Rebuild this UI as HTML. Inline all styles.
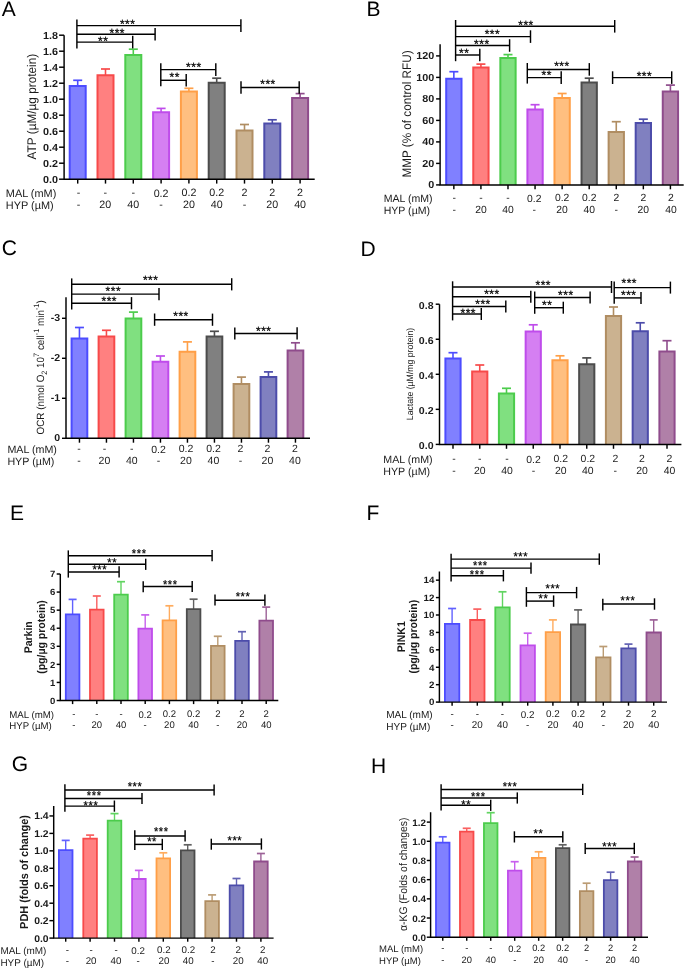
<!DOCTYPE html>
<html><head><meta charset="utf-8"><title>Figure</title>
<style>
html,body{margin:0;padding:0;background:#fff;width:685px;height:969px;overflow:hidden}
svg{display:block;font-family:"Liberation Sans",sans-serif;-webkit-font-smoothing:antialiased;will-change:transform;text-rendering:geometricPrecision}
</style></head><body>
<svg width="685" height="969" viewBox="0 0 685 969">
<g fill="#000">
<text x="1.8" y="15.9" font-size="21" fill="#000">A</text>
<line x1="77.7" y1="86" x2="77.7" y2="80.3" stroke="#4c4cff" stroke-width="1.6"/>
<line x1="73.2" y1="80.3" x2="82.2" y2="80.3" stroke="#4c4cff" stroke-width="1.7"/>
<rect x="69.7" y="86" width="16" height="93.2" fill="#8080ff"/>
<path d="M69.7 179.2V86H85.7V179.2" fill="none" stroke="#4c4cff" stroke-width="2"/>
<line x1="105.5" y1="75.3" x2="105.5" y2="69" stroke="#f74a4a" stroke-width="1.6"/>
<line x1="101" y1="69" x2="110" y2="69" stroke="#f74a4a" stroke-width="1.7"/>
<rect x="97.5" y="75.3" width="16" height="103.9" fill="#ff8080"/>
<path d="M97.5 179.2V75.3H113.5V179.2" fill="none" stroke="#f74a4a" stroke-width="2"/>
<line x1="133.3" y1="54.9" x2="133.3" y2="49.2" stroke="#4ccc4c" stroke-width="1.6"/>
<line x1="128.8" y1="49.2" x2="137.8" y2="49.2" stroke="#4ccc4c" stroke-width="1.7"/>
<rect x="125.3" y="54.9" width="16" height="124.3" fill="#80e080"/>
<path d="M125.3 179.2V54.9H141.3V179.2" fill="none" stroke="#4ccc4c" stroke-width="2"/>
<line x1="161.1" y1="112.3" x2="161.1" y2="108.4" stroke="#bf4ceb" stroke-width="1.6"/>
<line x1="156.6" y1="108.4" x2="165.6" y2="108.4" stroke="#bf4ceb" stroke-width="1.7"/>
<rect x="153.1" y="112.3" width="16" height="66.9" fill="#d57ff2"/>
<path d="M153.1 179.2V112.3H169.1V179.2" fill="none" stroke="#bf4ceb" stroke-width="2"/>
<line x1="188.9" y1="91.5" x2="188.9" y2="88.3" stroke="#ff9f47" stroke-width="1.6"/>
<line x1="184.4" y1="88.3" x2="193.4" y2="88.3" stroke="#ff9f47" stroke-width="1.7"/>
<rect x="180.9" y="91.5" width="16" height="87.7" fill="#ffbf80"/>
<path d="M180.9 179.2V91.5H196.9V179.2" fill="none" stroke="#ff9f47" stroke-width="2"/>
<line x1="216.7" y1="82.7" x2="216.7" y2="78.2" stroke="#4c4c4c" stroke-width="1.6"/>
<line x1="212.2" y1="78.2" x2="221.2" y2="78.2" stroke="#4c4c4c" stroke-width="1.7"/>
<rect x="208.7" y="82.7" width="16" height="96.5" fill="#808080"/>
<path d="M208.7 179.2V82.7H224.7V179.2" fill="none" stroke="#4c4c4c" stroke-width="2"/>
<line x1="244.5" y1="130.6" x2="244.5" y2="124.5" stroke="#b08d62" stroke-width="1.6"/>
<line x1="240" y1="124.5" x2="249" y2="124.5" stroke="#b08d62" stroke-width="1.7"/>
<rect x="236.5" y="130.6" width="16" height="48.6" fill="#cbb290"/>
<path d="M236.5 179.2V130.6H252.5V179.2" fill="none" stroke="#b08d62" stroke-width="2"/>
<line x1="272.3" y1="123.6" x2="272.3" y2="119.8" stroke="#4c4caa" stroke-width="1.6"/>
<line x1="267.8" y1="119.8" x2="276.8" y2="119.8" stroke="#4c4caa" stroke-width="1.7"/>
<rect x="264.3" y="123.6" width="16" height="55.6" fill="#8080c0"/>
<path d="M264.3 179.2V123.6H280.3V179.2" fill="none" stroke="#4c4caa" stroke-width="2"/>
<line x1="300.1" y1="98" x2="300.1" y2="93.6" stroke="#8f4c8c" stroke-width="1.6"/>
<line x1="295.6" y1="93.6" x2="304.6" y2="93.6" stroke="#8f4c8c" stroke-width="1.7"/>
<rect x="292.1" y="98" width="16" height="81.2" fill="#b080a8"/>
<path d="M292.1 179.2V98H308.1V179.2" fill="none" stroke="#8f4c8c" stroke-width="2"/>
<path d="M64.1 35.3V179.2H314.7" fill="none" stroke="#000" stroke-width="1.45"/>
<line x1="59.1" y1="179.2" x2="64.1" y2="179.2" stroke="#000" stroke-width="1.45"/>
<text transform="translate(58 182.82) scale(1.06 1)" font-size="10.2" font-weight="bold" text-anchor="end" fill="#1a1a1a">0.0</text>
<line x1="59.1" y1="163.2" x2="64.1" y2="163.2" stroke="#000" stroke-width="1.45"/>
<text transform="translate(58 166.82) scale(1.06 1)" font-size="10.2" font-weight="bold" text-anchor="end" fill="#1a1a1a">0.2</text>
<line x1="59.1" y1="147.2" x2="64.1" y2="147.2" stroke="#000" stroke-width="1.45"/>
<text transform="translate(58 150.82) scale(1.06 1)" font-size="10.2" font-weight="bold" text-anchor="end" fill="#1a1a1a">0.4</text>
<line x1="59.1" y1="131.2" x2="64.1" y2="131.2" stroke="#000" stroke-width="1.45"/>
<text transform="translate(58 134.82) scale(1.06 1)" font-size="10.2" font-weight="bold" text-anchor="end" fill="#1a1a1a">0.6</text>
<line x1="59.1" y1="115.2" x2="64.1" y2="115.2" stroke="#000" stroke-width="1.45"/>
<text transform="translate(58 118.82) scale(1.06 1)" font-size="10.2" font-weight="bold" text-anchor="end" fill="#1a1a1a">0.8</text>
<line x1="59.1" y1="99.2" x2="64.1" y2="99.2" stroke="#000" stroke-width="1.45"/>
<text transform="translate(58 102.82) scale(1.06 1)" font-size="10.2" font-weight="bold" text-anchor="end" fill="#1a1a1a">1.0</text>
<line x1="59.1" y1="83.2" x2="64.1" y2="83.2" stroke="#000" stroke-width="1.45"/>
<text transform="translate(58 86.82) scale(1.06 1)" font-size="10.2" font-weight="bold" text-anchor="end" fill="#1a1a1a">1.2</text>
<line x1="59.1" y1="67.2" x2="64.1" y2="67.2" stroke="#000" stroke-width="1.45"/>
<text transform="translate(58 70.82) scale(1.06 1)" font-size="10.2" font-weight="bold" text-anchor="end" fill="#1a1a1a">1.4</text>
<line x1="59.1" y1="51.2" x2="64.1" y2="51.2" stroke="#000" stroke-width="1.45"/>
<text transform="translate(58 54.82) scale(1.06 1)" font-size="10.2" font-weight="bold" text-anchor="end" fill="#1a1a1a">1.6</text>
<line x1="59.1" y1="35.2" x2="64.1" y2="35.2" stroke="#000" stroke-width="1.45"/>
<text transform="translate(58 38.82) scale(1.06 1)" font-size="10.2" font-weight="bold" text-anchor="end" fill="#1a1a1a">1.8</text>
<line x1="77.7" y1="179.2" x2="77.7" y2="183.6" stroke="#000" stroke-width="1.45"/>
<text x="78.5" y="196" font-size="10.7" text-anchor="middle" fill="#1a1a1a">-</text>
<text x="78.5" y="208" font-size="10.7" text-anchor="middle" fill="#1a1a1a">-</text>
<line x1="105.5" y1="179.2" x2="105.5" y2="183.6" stroke="#000" stroke-width="1.45"/>
<text x="105.2" y="196" font-size="10.7" text-anchor="middle" fill="#1a1a1a">-</text>
<text x="105.2" y="208" font-size="10.7" text-anchor="middle" fill="#1a1a1a">20</text>
<line x1="133.3" y1="179.2" x2="133.3" y2="183.6" stroke="#000" stroke-width="1.45"/>
<text x="133.3" y="196" font-size="10.7" text-anchor="middle" fill="#1a1a1a">-</text>
<text x="133.3" y="208" font-size="10.7" text-anchor="middle" fill="#1a1a1a">40</text>
<line x1="161.1" y1="179.2" x2="161.1" y2="183.6" stroke="#000" stroke-width="1.45"/>
<text x="161.1" y="196.9" font-size="10.7" text-anchor="middle" fill="#1a1a1a">0.2</text>
<text x="161.1" y="208" font-size="10.7" text-anchor="middle" fill="#1a1a1a">-</text>
<line x1="188.9" y1="179.2" x2="188.9" y2="183.6" stroke="#000" stroke-width="1.45"/>
<text x="188.9" y="196" font-size="10.7" text-anchor="middle" fill="#1a1a1a">0.2</text>
<text x="188.9" y="208" font-size="10.7" text-anchor="middle" fill="#1a1a1a">20</text>
<line x1="216.7" y1="179.2" x2="216.7" y2="183.6" stroke="#000" stroke-width="1.45"/>
<text x="216.7" y="196" font-size="10.7" text-anchor="middle" fill="#1a1a1a">0.2</text>
<text x="216.7" y="208" font-size="10.7" text-anchor="middle" fill="#1a1a1a">40</text>
<line x1="244.5" y1="179.2" x2="244.5" y2="183.6" stroke="#000" stroke-width="1.45"/>
<text x="244.5" y="196" font-size="10.7" text-anchor="middle" fill="#1a1a1a">2</text>
<text x="244.5" y="208" font-size="10.7" text-anchor="middle" fill="#1a1a1a">-</text>
<line x1="272.3" y1="179.2" x2="272.3" y2="183.6" stroke="#000" stroke-width="1.45"/>
<text x="272.3" y="196" font-size="10.7" text-anchor="middle" fill="#1a1a1a">2</text>
<text x="272.3" y="208" font-size="10.7" text-anchor="middle" fill="#1a1a1a">20</text>
<line x1="300.1" y1="179.2" x2="300.1" y2="183.6" stroke="#000" stroke-width="1.45"/>
<text x="300.1" y="196" font-size="10.7" text-anchor="middle" fill="#1a1a1a">2</text>
<text x="300.1" y="208" font-size="10.7" text-anchor="middle" fill="#1a1a1a">40</text>
<text x="5.8" y="196.9" font-size="10.91" fill="#1a1a1a">MAL (mM)</text>
<text x="5.8" y="209.2" font-size="10.91" fill="#1a1a1a">HYP (µM)</text>
<line x1="76.9" y1="19.5" x2="76.9" y2="48.4" stroke="#000" stroke-width="1.45"/>
<line x1="76.9" y1="25.6" x2="240.9" y2="25.6" stroke="#000" stroke-width="1.45"/>
<line x1="240.9" y1="19.3" x2="240.9" y2="31.9" stroke="#000" stroke-width="1.45"/>
<text x="127.65" y="27.85" font-size="12" text-anchor="middle" letter-spacing="0.5" stroke="#000" stroke-width="0.25">***</text>
<line x1="76.9" y1="34.2" x2="155.1" y2="34.2" stroke="#000" stroke-width="1.45"/>
<line x1="155.1" y1="27.9" x2="155.1" y2="40.5" stroke="#000" stroke-width="1.45"/>
<text x="117.25" y="36.75" font-size="12" text-anchor="middle" letter-spacing="0.5" stroke="#000" stroke-width="0.25">***</text>
<line x1="76.9" y1="42.1" x2="132.7" y2="42.1" stroke="#000" stroke-width="1.45"/>
<line x1="132.7" y1="35.8" x2="132.7" y2="48.4" stroke="#000" stroke-width="1.45"/>
<text x="103.15" y="44.65" font-size="12" text-anchor="middle" letter-spacing="0.5" stroke="#000" stroke-width="0.25">**</text>
<line x1="160.8" y1="63.2" x2="160.8" y2="86.3" stroke="#000" stroke-width="1.45"/>
<line x1="160.8" y1="69.6" x2="215.8" y2="69.6" stroke="#000" stroke-width="1.45"/>
<line x1="215.8" y1="63.3" x2="215.8" y2="75.9" stroke="#000" stroke-width="1.45"/>
<text x="193.85" y="70.55" font-size="12" text-anchor="middle" letter-spacing="0.5" stroke="#000" stroke-width="0.25">***</text>
<line x1="160.8" y1="80.3" x2="186.2" y2="80.3" stroke="#000" stroke-width="1.45"/>
<line x1="186.2" y1="74" x2="186.2" y2="86.6" stroke="#000" stroke-width="1.45"/>
<text x="174.75" y="81.25" font-size="12" text-anchor="middle" letter-spacing="0.5" stroke="#000" stroke-width="0.25">**</text>
<line x1="241" y1="81.3" x2="241" y2="93.8" stroke="#000" stroke-width="1.45"/>
<line x1="241" y1="87.5" x2="299.2" y2="87.5" stroke="#000" stroke-width="1.45"/>
<line x1="299.2" y1="81.2" x2="299.2" y2="93.8" stroke="#000" stroke-width="1.45"/>
<text x="268.05" y="88.45" font-size="12" text-anchor="middle" letter-spacing="0.5" stroke="#000" stroke-width="0.25">***</text>
<text transform="translate(35.9 106.6) rotate(-90) scale(1 1.06)" text-anchor="middle" font-size="11.8" fill="#1a1a1a">ATP (µM/µg protein)</text>
<text x="366.5" y="16.1" font-size="21" fill="#000">B</text>
<line x1="453.85" y1="78.7" x2="453.85" y2="71.7" stroke="#4c4cff" stroke-width="1.6"/>
<line x1="449.35" y1="71.7" x2="458.35" y2="71.7" stroke="#4c4cff" stroke-width="1.7"/>
<rect x="446.2" y="78.7" width="15.3" height="106.2" fill="#8080ff"/>
<path d="M446.2 184.9V78.7H461.5V184.9" fill="none" stroke="#4c4cff" stroke-width="2"/>
<line x1="480.92" y1="67.4" x2="480.92" y2="64.1" stroke="#f74a4a" stroke-width="1.6"/>
<line x1="476.42" y1="64.1" x2="485.42" y2="64.1" stroke="#f74a4a" stroke-width="1.7"/>
<rect x="473.27" y="67.4" width="15.3" height="117.5" fill="#ff8080"/>
<path d="M473.27 184.9V67.4H488.57V184.9" fill="none" stroke="#f74a4a" stroke-width="2"/>
<line x1="507.99" y1="58.1" x2="507.99" y2="54.6" stroke="#4ccc4c" stroke-width="1.6"/>
<line x1="503.49" y1="54.6" x2="512.49" y2="54.6" stroke="#4ccc4c" stroke-width="1.7"/>
<rect x="500.34" y="58.1" width="15.3" height="126.8" fill="#80e080"/>
<path d="M500.34 184.9V58.1H515.64V184.9" fill="none" stroke="#4ccc4c" stroke-width="2"/>
<line x1="535.06" y1="109.4" x2="535.06" y2="104.7" stroke="#bf4ceb" stroke-width="1.6"/>
<line x1="530.56" y1="104.7" x2="539.56" y2="104.7" stroke="#bf4ceb" stroke-width="1.7"/>
<rect x="527.41" y="109.4" width="15.3" height="75.5" fill="#d57ff2"/>
<path d="M527.41 184.9V109.4H542.71V184.9" fill="none" stroke="#bf4ceb" stroke-width="2"/>
<line x1="562.13" y1="98" x2="562.13" y2="93.5" stroke="#ff9f47" stroke-width="1.6"/>
<line x1="557.63" y1="93.5" x2="566.63" y2="93.5" stroke="#ff9f47" stroke-width="1.7"/>
<rect x="554.48" y="98" width="15.3" height="86.9" fill="#ffbf80"/>
<path d="M554.48 184.9V98H569.78V184.9" fill="none" stroke="#ff9f47" stroke-width="2"/>
<line x1="589.2" y1="82.5" x2="589.2" y2="78.2" stroke="#4c4c4c" stroke-width="1.6"/>
<line x1="584.7" y1="78.2" x2="593.7" y2="78.2" stroke="#4c4c4c" stroke-width="1.7"/>
<rect x="581.55" y="82.5" width="15.3" height="102.4" fill="#808080"/>
<path d="M581.55 184.9V82.5H596.85V184.9" fill="none" stroke="#4c4c4c" stroke-width="2"/>
<line x1="616.27" y1="131.9" x2="616.27" y2="121.7" stroke="#b08d62" stroke-width="1.6"/>
<line x1="611.77" y1="121.7" x2="620.77" y2="121.7" stroke="#b08d62" stroke-width="1.7"/>
<rect x="608.62" y="131.9" width="15.3" height="53" fill="#cbb290"/>
<path d="M608.62 184.9V131.9H623.92V184.9" fill="none" stroke="#b08d62" stroke-width="2"/>
<line x1="643.34" y1="123.1" x2="643.34" y2="119.2" stroke="#4c4caa" stroke-width="1.6"/>
<line x1="638.84" y1="119.2" x2="647.84" y2="119.2" stroke="#4c4caa" stroke-width="1.7"/>
<rect x="635.69" y="123.1" width="15.3" height="61.8" fill="#8080c0"/>
<path d="M635.69 184.9V123.1H650.99V184.9" fill="none" stroke="#4c4caa" stroke-width="2"/>
<line x1="670.41" y1="91.4" x2="670.41" y2="85.1" stroke="#8f4c8c" stroke-width="1.6"/>
<line x1="665.91" y1="85.1" x2="674.91" y2="85.1" stroke="#8f4c8c" stroke-width="1.7"/>
<rect x="662.76" y="91.4" width="15.3" height="93.5" fill="#b080a8"/>
<path d="M662.76 184.9V91.4H678.06V184.9" fill="none" stroke="#8f4c8c" stroke-width="2"/>
<path d="M440.1 44.2V184.9H683.7" fill="none" stroke="#000" stroke-width="1.45"/>
<line x1="436.1" y1="184.9" x2="440.1" y2="184.9" stroke="#000" stroke-width="1.45"/>
<text transform="translate(434.2 188.12) scale(1.06 1)" font-size="10.2" font-weight="bold" text-anchor="end" fill="#1a1a1a">0</text>
<line x1="436.1" y1="163.4" x2="440.1" y2="163.4" stroke="#000" stroke-width="1.45"/>
<text transform="translate(434.2 166.62) scale(1.06 1)" font-size="10.2" font-weight="bold" text-anchor="end" fill="#1a1a1a">20</text>
<line x1="436.1" y1="141.9" x2="440.1" y2="141.9" stroke="#000" stroke-width="1.45"/>
<text transform="translate(434.2 145.12) scale(1.06 1)" font-size="10.2" font-weight="bold" text-anchor="end" fill="#1a1a1a">40</text>
<line x1="436.1" y1="120.4" x2="440.1" y2="120.4" stroke="#000" stroke-width="1.45"/>
<text transform="translate(434.2 123.62) scale(1.06 1)" font-size="10.2" font-weight="bold" text-anchor="end" fill="#1a1a1a">60</text>
<line x1="436.1" y1="98.9" x2="440.1" y2="98.9" stroke="#000" stroke-width="1.45"/>
<text transform="translate(434.2 102.12) scale(1.06 1)" font-size="10.2" font-weight="bold" text-anchor="end" fill="#1a1a1a">80</text>
<line x1="436.1" y1="77.4" x2="440.1" y2="77.4" stroke="#000" stroke-width="1.45"/>
<text transform="translate(434.2 80.62) scale(1.06 1)" font-size="10.2" font-weight="bold" text-anchor="end" fill="#1a1a1a">100</text>
<line x1="436.1" y1="55.9" x2="440.1" y2="55.9" stroke="#000" stroke-width="1.45"/>
<text transform="translate(434.2 59.12) scale(1.06 1)" font-size="10.2" font-weight="bold" text-anchor="end" fill="#1a1a1a">120</text>
<line x1="453.85" y1="184.9" x2="453.85" y2="189.3" stroke="#000" stroke-width="1.45"/>
<text x="454.35" y="201.1" font-size="10.35" text-anchor="middle" fill="#1a1a1a">-</text>
<text x="454.35" y="212.9" font-size="10.35" text-anchor="middle" fill="#1a1a1a">-</text>
<line x1="480.92" y1="184.9" x2="480.92" y2="189.3" stroke="#000" stroke-width="1.45"/>
<text x="480.92" y="201.1" font-size="10.35" text-anchor="middle" fill="#1a1a1a">-</text>
<text x="480.92" y="212.9" font-size="10.35" text-anchor="middle" fill="#1a1a1a">20</text>
<line x1="507.99" y1="184.9" x2="507.99" y2="189.3" stroke="#000" stroke-width="1.45"/>
<text x="507.99" y="201.1" font-size="10.35" text-anchor="middle" fill="#1a1a1a">-</text>
<text x="507.99" y="212.9" font-size="10.35" text-anchor="middle" fill="#1a1a1a">40</text>
<line x1="535.06" y1="184.9" x2="535.06" y2="189.3" stroke="#000" stroke-width="1.45"/>
<text x="534.26" y="202" font-size="10.35" text-anchor="middle" fill="#1a1a1a">0.2</text>
<text x="534.26" y="212.9" font-size="10.35" text-anchor="middle" fill="#1a1a1a">-</text>
<line x1="562.13" y1="184.9" x2="562.13" y2="189.3" stroke="#000" stroke-width="1.45"/>
<text x="562.13" y="201.1" font-size="10.35" text-anchor="middle" fill="#1a1a1a">0.2</text>
<text x="562.13" y="212.9" font-size="10.35" text-anchor="middle" fill="#1a1a1a">20</text>
<line x1="589.2" y1="184.9" x2="589.2" y2="189.3" stroke="#000" stroke-width="1.45"/>
<text x="589.2" y="201.1" font-size="10.35" text-anchor="middle" fill="#1a1a1a">0.2</text>
<text x="589.2" y="212.9" font-size="10.35" text-anchor="middle" fill="#1a1a1a">40</text>
<line x1="616.27" y1="184.9" x2="616.27" y2="189.3" stroke="#000" stroke-width="1.45"/>
<text x="616.27" y="201.1" font-size="10.35" text-anchor="middle" fill="#1a1a1a">2</text>
<text x="616.27" y="212.9" font-size="10.35" text-anchor="middle" fill="#1a1a1a">-</text>
<line x1="643.34" y1="184.9" x2="643.34" y2="189.3" stroke="#000" stroke-width="1.45"/>
<text x="643.34" y="201.1" font-size="10.35" text-anchor="middle" fill="#1a1a1a">2</text>
<text x="643.34" y="212.9" font-size="10.35" text-anchor="middle" fill="#1a1a1a">20</text>
<line x1="670.41" y1="184.9" x2="670.41" y2="189.3" stroke="#000" stroke-width="1.45"/>
<text x="670.91" y="201.1" font-size="10.35" text-anchor="middle" fill="#1a1a1a">2</text>
<text x="670.91" y="212.9" font-size="10.35" text-anchor="middle" fill="#1a1a1a">40</text>
<text x="383.7" y="202" font-size="10.56" fill="#1a1a1a">MAL (mM)</text>
<text x="383.7" y="214.1" font-size="10.56" fill="#1a1a1a">HYP (µM)</text>
<line x1="455.6" y1="20" x2="455.6" y2="61.2" stroke="#000" stroke-width="1.45"/>
<line x1="455.6" y1="26.3" x2="614.7" y2="26.3" stroke="#000" stroke-width="1.45"/>
<line x1="614.7" y1="20" x2="614.7" y2="32.6" stroke="#000" stroke-width="1.45"/>
<text x="526.05" y="28.65" font-size="12" text-anchor="middle" letter-spacing="0.5" stroke="#000" stroke-width="0.25">***</text>
<line x1="455.6" y1="36.6" x2="530.5" y2="36.6" stroke="#000" stroke-width="1.45"/>
<line x1="530.5" y1="30.3" x2="530.5" y2="42.9" stroke="#000" stroke-width="1.45"/>
<text x="492.45" y="37.85" font-size="12" text-anchor="middle" letter-spacing="0.5" stroke="#000" stroke-width="0.25">***</text>
<line x1="455.6" y1="45.5" x2="509.6" y2="45.5" stroke="#000" stroke-width="1.45"/>
<line x1="509.6" y1="39.2" x2="509.6" y2="51.8" stroke="#000" stroke-width="1.45"/>
<text x="481.85" y="48.15" font-size="12" text-anchor="middle" letter-spacing="0.5" stroke="#000" stroke-width="0.25">***</text>
<line x1="455.6" y1="55" x2="479.8" y2="55" stroke="#000" stroke-width="1.45"/>
<line x1="479.8" y1="48.7" x2="479.8" y2="61.3" stroke="#000" stroke-width="1.45"/>
<text x="464.15" y="56.95" font-size="12" text-anchor="middle" letter-spacing="0.5" stroke="#000" stroke-width="0.25">**</text>
<line x1="527.3" y1="63" x2="527.3" y2="83.6" stroke="#000" stroke-width="1.45"/>
<line x1="527.3" y1="69.4" x2="589.3" y2="69.4" stroke="#000" stroke-width="1.45"/>
<line x1="589.3" y1="63.1" x2="589.3" y2="75.7" stroke="#000" stroke-width="1.45"/>
<text x="561.95" y="70.15" font-size="12" text-anchor="middle" letter-spacing="0.5" stroke="#000" stroke-width="0.25">***</text>
<line x1="527.3" y1="77.6" x2="561.2" y2="77.6" stroke="#000" stroke-width="1.45"/>
<line x1="561.2" y1="71.3" x2="561.2" y2="83.9" stroke="#000" stroke-width="1.45"/>
<text x="546.65" y="79.25" font-size="12" text-anchor="middle" letter-spacing="0.5" stroke="#000" stroke-width="0.25">**</text>
<line x1="612.6" y1="71.3" x2="612.6" y2="84" stroke="#000" stroke-width="1.45"/>
<line x1="612.6" y1="77.6" x2="671.7" y2="77.6" stroke="#000" stroke-width="1.45"/>
<line x1="671.7" y1="71.3" x2="671.7" y2="83.9" stroke="#000" stroke-width="1.45"/>
<text x="644.45" y="79.95" font-size="12" text-anchor="middle" letter-spacing="0.5" stroke="#000" stroke-width="0.25">***</text>
<text transform="translate(411 114) rotate(-90) scale(1 1.06)" text-anchor="middle" font-size="11.7" fill="#1a1a1a">MMP (% of control RFU)</text>
<text x="1.7" y="255.4" font-size="21" fill="#000">C</text>
<line x1="79.45" y1="338.4" x2="79.45" y2="327.5" stroke="#4c4cff" stroke-width="1.6"/>
<line x1="74.95" y1="327.5" x2="83.95" y2="327.5" stroke="#4c4cff" stroke-width="1.7"/>
<rect x="71.6" y="338.4" width="15.7" height="99.9" fill="#8080ff"/>
<path d="M71.6 438.3V338.4H87.3V438.3" fill="none" stroke="#4c4cff" stroke-width="2"/>
<line x1="106.45" y1="336.5" x2="106.45" y2="330.3" stroke="#f74a4a" stroke-width="1.6"/>
<line x1="101.95" y1="330.3" x2="110.95" y2="330.3" stroke="#f74a4a" stroke-width="1.7"/>
<rect x="98.6" y="336.5" width="15.7" height="101.8" fill="#ff8080"/>
<path d="M98.6 438.3V336.5H114.3V438.3" fill="none" stroke="#f74a4a" stroke-width="2"/>
<line x1="133.45" y1="318.4" x2="133.45" y2="312.1" stroke="#4ccc4c" stroke-width="1.6"/>
<line x1="128.95" y1="312.1" x2="137.95" y2="312.1" stroke="#4ccc4c" stroke-width="1.7"/>
<rect x="125.6" y="318.4" width="15.7" height="119.9" fill="#80e080"/>
<path d="M125.6 438.3V318.4H141.3V438.3" fill="none" stroke="#4ccc4c" stroke-width="2"/>
<line x1="160.45" y1="361.7" x2="160.45" y2="356" stroke="#bf4ceb" stroke-width="1.6"/>
<line x1="155.95" y1="356" x2="164.95" y2="356" stroke="#bf4ceb" stroke-width="1.7"/>
<rect x="152.6" y="361.7" width="15.7" height="76.6" fill="#d57ff2"/>
<path d="M152.6 438.3V361.7H168.3V438.3" fill="none" stroke="#bf4ceb" stroke-width="2"/>
<line x1="187.45" y1="351.7" x2="187.45" y2="341.9" stroke="#ff9f47" stroke-width="1.6"/>
<line x1="182.95" y1="341.9" x2="191.95" y2="341.9" stroke="#ff9f47" stroke-width="1.7"/>
<rect x="179.6" y="351.7" width="15.7" height="86.6" fill="#ffbf80"/>
<path d="M179.6 438.3V351.7H195.3V438.3" fill="none" stroke="#ff9f47" stroke-width="2"/>
<line x1="214.45" y1="336.4" x2="214.45" y2="331.3" stroke="#4c4c4c" stroke-width="1.6"/>
<line x1="209.95" y1="331.3" x2="218.95" y2="331.3" stroke="#4c4c4c" stroke-width="1.7"/>
<rect x="206.6" y="336.4" width="15.7" height="101.9" fill="#808080"/>
<path d="M206.6 438.3V336.4H222.3V438.3" fill="none" stroke="#4c4c4c" stroke-width="2"/>
<line x1="241.45" y1="384.1" x2="241.45" y2="377.1" stroke="#b08d62" stroke-width="1.6"/>
<line x1="236.95" y1="377.1" x2="245.95" y2="377.1" stroke="#b08d62" stroke-width="1.7"/>
<rect x="233.6" y="384.1" width="15.7" height="54.2" fill="#cbb290"/>
<path d="M233.6 438.3V384.1H249.3V438.3" fill="none" stroke="#b08d62" stroke-width="2"/>
<line x1="268.45" y1="377.1" x2="268.45" y2="371.9" stroke="#4c4caa" stroke-width="1.6"/>
<line x1="263.95" y1="371.9" x2="272.95" y2="371.9" stroke="#4c4caa" stroke-width="1.7"/>
<rect x="260.6" y="377.1" width="15.7" height="61.2" fill="#8080c0"/>
<path d="M260.6 438.3V377.1H276.3V438.3" fill="none" stroke="#4c4caa" stroke-width="2"/>
<line x1="295.45" y1="350.4" x2="295.45" y2="342.8" stroke="#8f4c8c" stroke-width="1.6"/>
<line x1="290.95" y1="342.8" x2="299.95" y2="342.8" stroke="#8f4c8c" stroke-width="1.7"/>
<rect x="287.6" y="350.4" width="15.7" height="87.9" fill="#b080a8"/>
<path d="M287.6 438.3V350.4H303.3V438.3" fill="none" stroke="#8f4c8c" stroke-width="2"/>
<path d="M66 297.3V438.3H310" fill="none" stroke="#000" stroke-width="1.45"/>
<line x1="62" y1="438.3" x2="66" y2="438.3" stroke="#000" stroke-width="1.45"/>
<text transform="translate(60.1 440.95) scale(1.06 1)" font-size="10" font-weight="bold" text-anchor="end" fill="#1a1a1a">0</text>
<line x1="62" y1="398.3" x2="66" y2="398.3" stroke="#000" stroke-width="1.45"/>
<text transform="translate(60.1 400.95) scale(1.06 1)" font-size="10" font-weight="bold" text-anchor="end" fill="#1a1a1a">-1</text>
<line x1="62" y1="358.3" x2="66" y2="358.3" stroke="#000" stroke-width="1.45"/>
<text transform="translate(60.1 360.95) scale(1.06 1)" font-size="10" font-weight="bold" text-anchor="end" fill="#1a1a1a">-2</text>
<line x1="62" y1="318.3" x2="66" y2="318.3" stroke="#000" stroke-width="1.45"/>
<text transform="translate(60.1 320.95) scale(1.06 1)" font-size="10" font-weight="bold" text-anchor="end" fill="#1a1a1a">-3</text>
<line x1="79.45" y1="438.3" x2="79.45" y2="442.7" stroke="#000" stroke-width="1.45"/>
<text x="78.95" y="451.7" font-size="10.5" text-anchor="middle" fill="#1a1a1a">-</text>
<text x="78.95" y="463.5" font-size="10.5" text-anchor="middle" fill="#1a1a1a">-</text>
<line x1="106.45" y1="438.3" x2="106.45" y2="442.7" stroke="#000" stroke-width="1.45"/>
<text x="104.45" y="451.7" font-size="10.5" text-anchor="middle" fill="#1a1a1a">-</text>
<text x="104.45" y="463.5" font-size="10.5" text-anchor="middle" fill="#1a1a1a">20</text>
<line x1="133.45" y1="438.3" x2="133.45" y2="442.7" stroke="#000" stroke-width="1.45"/>
<text x="131.85" y="451.7" font-size="10.5" text-anchor="middle" fill="#1a1a1a">-</text>
<text x="131.85" y="463.5" font-size="10.5" text-anchor="middle" fill="#1a1a1a">40</text>
<line x1="160.45" y1="438.3" x2="160.45" y2="442.7" stroke="#000" stroke-width="1.45"/>
<text x="158.45" y="452.6" font-size="10.5" text-anchor="middle" fill="#1a1a1a">0.2</text>
<text x="158.45" y="463.5" font-size="10.5" text-anchor="middle" fill="#1a1a1a">-</text>
<line x1="187.45" y1="438.3" x2="187.45" y2="442.7" stroke="#000" stroke-width="1.45"/>
<text x="185.95" y="451.7" font-size="10.5" text-anchor="middle" fill="#1a1a1a">0.2</text>
<text x="185.95" y="463.5" font-size="10.5" text-anchor="middle" fill="#1a1a1a">20</text>
<line x1="214.45" y1="438.3" x2="214.45" y2="442.7" stroke="#000" stroke-width="1.45"/>
<text x="213.45" y="451.7" font-size="10.5" text-anchor="middle" fill="#1a1a1a">0.2</text>
<text x="213.45" y="463.5" font-size="10.5" text-anchor="middle" fill="#1a1a1a">40</text>
<line x1="241.45" y1="438.3" x2="241.45" y2="442.7" stroke="#000" stroke-width="1.45"/>
<text x="240.45" y="451.7" font-size="10.5" text-anchor="middle" fill="#1a1a1a">2</text>
<text x="240.45" y="463.5" font-size="10.5" text-anchor="middle" fill="#1a1a1a">-</text>
<line x1="268.45" y1="438.3" x2="268.45" y2="442.7" stroke="#000" stroke-width="1.45"/>
<text x="267.45" y="451.7" font-size="10.5" text-anchor="middle" fill="#1a1a1a">2</text>
<text x="267.45" y="463.5" font-size="10.5" text-anchor="middle" fill="#1a1a1a">20</text>
<line x1="295.45" y1="438.3" x2="295.45" y2="442.7" stroke="#000" stroke-width="1.45"/>
<text x="294.95" y="451.7" font-size="10.5" text-anchor="middle" fill="#1a1a1a">2</text>
<text x="294.95" y="463.5" font-size="10.5" text-anchor="middle" fill="#1a1a1a">40</text>
<text x="7.4" y="452.6" font-size="10.71" fill="#1a1a1a">MAL (mM)</text>
<text x="7.4" y="464.7" font-size="10.71" fill="#1a1a1a">HYP (µM)</text>
<line x1="71.7" y1="278.4" x2="71.7" y2="309.5" stroke="#000" stroke-width="1.45"/>
<line x1="71.7" y1="284.3" x2="231.7" y2="284.3" stroke="#000" stroke-width="1.45"/>
<line x1="231.7" y1="278.2" x2="231.7" y2="290.4" stroke="#000" stroke-width="1.45"/>
<text x="150.65" y="283.95" font-size="12" text-anchor="middle" letter-spacing="0.5" stroke="#000" stroke-width="0.25">***</text>
<line x1="71.7" y1="294.1" x2="159" y2="294.1" stroke="#000" stroke-width="1.45"/>
<line x1="159" y1="288" x2="159" y2="300.2" stroke="#000" stroke-width="1.45"/>
<text x="113.35" y="295.15" font-size="12" text-anchor="middle" letter-spacing="0.5" stroke="#000" stroke-width="0.25">***</text>
<line x1="71.7" y1="303.2" x2="131.5" y2="303.2" stroke="#000" stroke-width="1.45"/>
<line x1="131.5" y1="297.1" x2="131.5" y2="309.3" stroke="#000" stroke-width="1.45"/>
<text x="109.25" y="305.25" font-size="12" text-anchor="middle" letter-spacing="0.5" stroke="#000" stroke-width="0.25">***</text>
<line x1="154.6" y1="313.5" x2="154.6" y2="325.8" stroke="#000" stroke-width="1.45"/>
<line x1="154.6" y1="319.7" x2="212.5" y2="319.7" stroke="#000" stroke-width="1.45"/>
<line x1="212.5" y1="313.6" x2="212.5" y2="325.8" stroke="#000" stroke-width="1.45"/>
<text x="181.05" y="319.75" font-size="12" text-anchor="middle" letter-spacing="0.5" stroke="#000" stroke-width="0.25">***</text>
<line x1="234.8" y1="327.6" x2="234.8" y2="339.5" stroke="#000" stroke-width="1.45"/>
<line x1="234.8" y1="333.4" x2="297.1" y2="333.4" stroke="#000" stroke-width="1.45"/>
<line x1="297.1" y1="327.3" x2="297.1" y2="339.5" stroke="#000" stroke-width="1.45"/>
<text x="263.75" y="334.55" font-size="12" text-anchor="middle" letter-spacing="0.5" stroke="#000" stroke-width="0.25">***</text>
<text x="360.5" y="256" font-size="21" fill="#000">D</text>
<line x1="453" y1="358.5" x2="453" y2="352.7" stroke="#4c4cff" stroke-width="1.6"/>
<line x1="448.5" y1="352.7" x2="457.5" y2="352.7" stroke="#4c4cff" stroke-width="1.7"/>
<rect x="445.4" y="358.5" width="15.2" height="85.9" fill="#8080ff"/>
<path d="M445.4 444.4V358.5H460.6V444.4" fill="none" stroke="#4c4cff" stroke-width="2"/>
<line x1="479.75" y1="371.4" x2="479.75" y2="365" stroke="#f74a4a" stroke-width="1.6"/>
<line x1="475.25" y1="365" x2="484.25" y2="365" stroke="#f74a4a" stroke-width="1.7"/>
<rect x="472.15" y="371.4" width="15.2" height="73" fill="#ff8080"/>
<path d="M472.15 444.4V371.4H487.35V444.4" fill="none" stroke="#f74a4a" stroke-width="2"/>
<line x1="506.5" y1="393.6" x2="506.5" y2="388.3" stroke="#4ccc4c" stroke-width="1.6"/>
<line x1="502" y1="388.3" x2="511" y2="388.3" stroke="#4ccc4c" stroke-width="1.7"/>
<rect x="498.9" y="393.6" width="15.2" height="50.8" fill="#80e080"/>
<path d="M498.9 444.4V393.6H514.1V444.4" fill="none" stroke="#4ccc4c" stroke-width="2"/>
<line x1="533.25" y1="331.4" x2="533.25" y2="324.8" stroke="#bf4ceb" stroke-width="1.6"/>
<line x1="528.75" y1="324.8" x2="537.75" y2="324.8" stroke="#bf4ceb" stroke-width="1.7"/>
<rect x="525.65" y="331.4" width="15.2" height="113" fill="#d57ff2"/>
<path d="M525.65 444.4V331.4H540.85V444.4" fill="none" stroke="#bf4ceb" stroke-width="2"/>
<line x1="560" y1="360.3" x2="560" y2="355.8" stroke="#ff9f47" stroke-width="1.6"/>
<line x1="555.5" y1="355.8" x2="564.5" y2="355.8" stroke="#ff9f47" stroke-width="1.7"/>
<rect x="552.4" y="360.3" width="15.2" height="84.1" fill="#ffbf80"/>
<path d="M552.4 444.4V360.3H567.6V444.4" fill="none" stroke="#ff9f47" stroke-width="2"/>
<line x1="586.75" y1="364.3" x2="586.75" y2="357.9" stroke="#4c4c4c" stroke-width="1.6"/>
<line x1="582.25" y1="357.9" x2="591.25" y2="357.9" stroke="#4c4c4c" stroke-width="1.7"/>
<rect x="579.15" y="364.3" width="15.2" height="80.1" fill="#808080"/>
<path d="M579.15 444.4V364.3H594.35V444.4" fill="none" stroke="#4c4c4c" stroke-width="2"/>
<line x1="613.5" y1="316" x2="613.5" y2="307" stroke="#b08d62" stroke-width="1.6"/>
<line x1="609" y1="307" x2="618" y2="307" stroke="#b08d62" stroke-width="1.7"/>
<rect x="605.9" y="316" width="15.2" height="128.4" fill="#cbb290"/>
<path d="M605.9 444.4V316H621.1V444.4" fill="none" stroke="#b08d62" stroke-width="2"/>
<line x1="640.25" y1="331.3" x2="640.25" y2="322.8" stroke="#4c4caa" stroke-width="1.6"/>
<line x1="635.75" y1="322.8" x2="644.75" y2="322.8" stroke="#4c4caa" stroke-width="1.7"/>
<rect x="632.65" y="331.3" width="15.2" height="113.1" fill="#8080c0"/>
<path d="M632.65 444.4V331.3H647.85V444.4" fill="none" stroke="#4c4caa" stroke-width="2"/>
<line x1="667" y1="351.4" x2="667" y2="340.7" stroke="#8f4c8c" stroke-width="1.6"/>
<line x1="662.5" y1="340.7" x2="671.5" y2="340.7" stroke="#8f4c8c" stroke-width="1.7"/>
<rect x="659.4" y="351.4" width="15.2" height="93" fill="#b080a8"/>
<path d="M659.4 444.4V351.4H674.6V444.4" fill="none" stroke="#8f4c8c" stroke-width="2"/>
<path d="M439.5 304.2V444.4H681.4" fill="none" stroke="#000" stroke-width="1.45"/>
<line x1="435.7" y1="444.4" x2="439.5" y2="444.4" stroke="#000" stroke-width="1.45"/>
<text transform="translate(433.6 448.75) scale(1.06 1)" font-size="10" font-weight="bold" text-anchor="end" fill="#1a1a1a">0.0</text>
<line x1="435.7" y1="409.35" x2="439.5" y2="409.35" stroke="#000" stroke-width="1.45"/>
<text transform="translate(433.6 413.7) scale(1.06 1)" font-size="10" font-weight="bold" text-anchor="end" fill="#1a1a1a">0.2</text>
<line x1="435.7" y1="374.3" x2="439.5" y2="374.3" stroke="#000" stroke-width="1.45"/>
<text transform="translate(433.6 378.65) scale(1.06 1)" font-size="10" font-weight="bold" text-anchor="end" fill="#1a1a1a">0.4</text>
<line x1="435.7" y1="339.25" x2="439.5" y2="339.25" stroke="#000" stroke-width="1.45"/>
<text transform="translate(433.6 343.6) scale(1.06 1)" font-size="10" font-weight="bold" text-anchor="end" fill="#1a1a1a">0.6</text>
<line x1="435.7" y1="304.2" x2="439.5" y2="304.2" stroke="#000" stroke-width="1.45"/>
<text transform="translate(433.6 308.55) scale(1.06 1)" font-size="10" font-weight="bold" text-anchor="end" fill="#1a1a1a">0.8</text>
<line x1="453" y1="444.4" x2="453" y2="448.8" stroke="#000" stroke-width="1.45"/>
<text x="454" y="462.3" font-size="10.45" text-anchor="middle" fill="#1a1a1a">-</text>
<text x="454" y="474.2" font-size="10.45" text-anchor="middle" fill="#1a1a1a">-</text>
<line x1="479.75" y1="444.4" x2="479.75" y2="448.8" stroke="#000" stroke-width="1.45"/>
<text x="479.75" y="462.3" font-size="10.45" text-anchor="middle" fill="#1a1a1a">-</text>
<text x="479.75" y="474.2" font-size="10.45" text-anchor="middle" fill="#1a1a1a">20</text>
<line x1="506.5" y1="444.4" x2="506.5" y2="448.8" stroke="#000" stroke-width="1.45"/>
<text x="507" y="462.3" font-size="10.45" text-anchor="middle" fill="#1a1a1a">-</text>
<text x="507" y="474.2" font-size="10.45" text-anchor="middle" fill="#1a1a1a">40</text>
<line x1="533.25" y1="444.4" x2="533.25" y2="448.8" stroke="#000" stroke-width="1.45"/>
<text x="533.45" y="463.2" font-size="10.45" text-anchor="middle" fill="#1a1a1a">0.2</text>
<text x="533.45" y="474.2" font-size="10.45" text-anchor="middle" fill="#1a1a1a">-</text>
<line x1="560" y1="444.4" x2="560" y2="448.8" stroke="#000" stroke-width="1.45"/>
<text x="560.8" y="462.3" font-size="10.45" text-anchor="middle" fill="#1a1a1a">0.2</text>
<text x="560.8" y="474.2" font-size="10.45" text-anchor="middle" fill="#1a1a1a">20</text>
<line x1="586.75" y1="444.4" x2="586.75" y2="448.8" stroke="#000" stroke-width="1.45"/>
<text x="587.85" y="462.3" font-size="10.45" text-anchor="middle" fill="#1a1a1a">0.2</text>
<text x="587.85" y="474.2" font-size="10.45" text-anchor="middle" fill="#1a1a1a">40</text>
<line x1="613.5" y1="444.4" x2="613.5" y2="448.8" stroke="#000" stroke-width="1.45"/>
<text x="615.3" y="462.3" font-size="10.45" text-anchor="middle" fill="#1a1a1a">2</text>
<text x="615.3" y="474.2" font-size="10.45" text-anchor="middle" fill="#1a1a1a">-</text>
<line x1="640.25" y1="444.4" x2="640.25" y2="448.8" stroke="#000" stroke-width="1.45"/>
<text x="641.95" y="462.3" font-size="10.45" text-anchor="middle" fill="#1a1a1a">2</text>
<text x="641.95" y="474.2" font-size="10.45" text-anchor="middle" fill="#1a1a1a">20</text>
<line x1="667" y1="444.4" x2="667" y2="448.8" stroke="#000" stroke-width="1.45"/>
<text x="669.5" y="462.3" font-size="10.45" text-anchor="middle" fill="#1a1a1a">2</text>
<text x="669.5" y="474.2" font-size="10.45" text-anchor="middle" fill="#1a1a1a">40</text>
<text x="383.3" y="463.2" font-size="10.66" fill="#1a1a1a">MAL (mM)</text>
<text x="383.3" y="475.4" font-size="10.66" fill="#1a1a1a">HYP (µM)</text>
<line x1="452.6" y1="281.3" x2="452.6" y2="320.4" stroke="#000" stroke-width="1.45"/>
<line x1="452.6" y1="287" x2="611.5" y2="287" stroke="#000" stroke-width="1.45"/>
<line x1="611.5" y1="281" x2="611.5" y2="293" stroke="#000" stroke-width="1.45"/>
<text x="543.25" y="289.25" font-size="12" text-anchor="middle" letter-spacing="0.5" stroke="#000" stroke-width="0.25">***</text>
<line x1="452.6" y1="296.8" x2="530.8" y2="296.8" stroke="#000" stroke-width="1.45"/>
<line x1="530.8" y1="290.8" x2="530.8" y2="302.8" stroke="#000" stroke-width="1.45"/>
<text x="491.95" y="298.35" font-size="12" text-anchor="middle" letter-spacing="0.5" stroke="#000" stroke-width="0.25">***</text>
<line x1="452.6" y1="306.4" x2="505.8" y2="306.4" stroke="#000" stroke-width="1.45"/>
<line x1="505.8" y1="300.4" x2="505.8" y2="312.4" stroke="#000" stroke-width="1.45"/>
<text x="483.05" y="308.25" font-size="12" text-anchor="middle" letter-spacing="0.5" stroke="#000" stroke-width="0.25">***</text>
<line x1="452.6" y1="314" x2="481.3" y2="314" stroke="#000" stroke-width="1.45"/>
<line x1="481.3" y1="308" x2="481.3" y2="320" stroke="#000" stroke-width="1.45"/>
<text x="468.25" y="316.65" font-size="12" text-anchor="middle" letter-spacing="0.5" stroke="#000" stroke-width="0.25">***</text>
<line x1="534.7" y1="291.5" x2="534.7" y2="313.8" stroke="#000" stroke-width="1.45"/>
<line x1="534.7" y1="297.5" x2="590.1" y2="297.5" stroke="#000" stroke-width="1.45"/>
<line x1="590.1" y1="291.5" x2="590.1" y2="303.5" stroke="#000" stroke-width="1.45"/>
<text x="565.85" y="299.35" font-size="12" text-anchor="middle" letter-spacing="0.5" stroke="#000" stroke-width="0.25">***</text>
<line x1="534.7" y1="307.7" x2="563.3" y2="307.7" stroke="#000" stroke-width="1.45"/>
<line x1="563.3" y1="301.7" x2="563.3" y2="313.7" stroke="#000" stroke-width="1.45"/>
<text x="547.25" y="309.15" font-size="12" text-anchor="middle" letter-spacing="0.5" stroke="#000" stroke-width="0.25">**</text>
<line x1="614.2" y1="281.6" x2="614.2" y2="303.8" stroke="#000" stroke-width="1.45"/>
<line x1="614.2" y1="287.6" x2="670.4" y2="287.6" stroke="#000" stroke-width="1.45"/>
<line x1="670.4" y1="281.6" x2="670.4" y2="293.6" stroke="#000" stroke-width="1.45"/>
<text x="629.25" y="286.65" font-size="12" text-anchor="middle" letter-spacing="0.5" stroke="#000" stroke-width="0.25">***</text>
<line x1="614.2" y1="297.9" x2="641" y2="297.9" stroke="#000" stroke-width="1.45"/>
<line x1="641" y1="291.9" x2="641" y2="303.9" stroke="#000" stroke-width="1.45"/>
<text x="628.75" y="299.35" font-size="12" text-anchor="middle" letter-spacing="0.5" stroke="#000" stroke-width="0.25">***</text>
<text transform="translate(413 374) rotate(-90) scale(1 1.06)" text-anchor="middle" font-size="8.7" fill="#1a1a1a">Lactate (µM/mg protein)</text>
<text x="9.9" y="520.3" font-size="21" fill="#000">E</text>
<line x1="72.6" y1="614.4" x2="72.6" y2="599.4" stroke="#6161ff" stroke-width="1.4"/>
<line x1="68.6" y1="599.4" x2="76.6" y2="599.4" stroke="#6161ff" stroke-width="1.7"/>
<rect x="65.8" y="614.3" width="13.6" height="86.2" fill="#8080ff"/>
<path d="M65.8 700.5V614.3H79.4V700.5" fill="none" stroke="#4c4cff" stroke-width="1.8"/>
<line x1="96.8" y1="609.7" x2="96.8" y2="596" stroke="#fa6060" stroke-width="1.4"/>
<line x1="92.8" y1="596" x2="100.8" y2="596" stroke="#fa6060" stroke-width="1.7"/>
<rect x="90" y="609.6" width="13.6" height="90.9" fill="#ff8080"/>
<path d="M90 700.5V609.6H103.6V700.5" fill="none" stroke="#f74a4a" stroke-width="1.8"/>
<line x1="121" y1="594.7" x2="121" y2="581.7" stroke="#61d461" stroke-width="1.4"/>
<line x1="117" y1="581.7" x2="125" y2="581.7" stroke="#61d461" stroke-width="1.7"/>
<rect x="114.2" y="594.6" width="13.6" height="105.9" fill="#80e080"/>
<path d="M114.2 700.5V594.6H127.8V700.5" fill="none" stroke="#4ccc4c" stroke-width="1.8"/>
<line x1="145.2" y1="628.8" x2="145.2" y2="614.9" stroke="#c860ee" stroke-width="1.4"/>
<line x1="141.2" y1="614.9" x2="149.2" y2="614.9" stroke="#c860ee" stroke-width="1.7"/>
<rect x="138.4" y="628.7" width="13.6" height="71.8" fill="#d57ff2"/>
<path d="M138.4 700.5V628.7H152V700.5" fill="none" stroke="#bf4ceb" stroke-width="1.8"/>
<line x1="169.4" y1="620.5" x2="169.4" y2="605.8" stroke="#ffac5e" stroke-width="1.4"/>
<line x1="165.4" y1="605.8" x2="173.4" y2="605.8" stroke="#ffac5e" stroke-width="1.7"/>
<rect x="162.6" y="620.4" width="13.6" height="80.1" fill="#ffbf80"/>
<path d="M162.6 700.5V620.4H176.2V700.5" fill="none" stroke="#ff9f47" stroke-width="1.8"/>
<line x1="193.6" y1="609.3" x2="193.6" y2="599.2" stroke="#616161" stroke-width="1.4"/>
<line x1="189.6" y1="599.2" x2="197.6" y2="599.2" stroke="#616161" stroke-width="1.7"/>
<rect x="186.8" y="609.2" width="13.6" height="91.3" fill="#808080"/>
<path d="M186.8 700.5V609.2H200.4V700.5" fill="none" stroke="#4c4c4c" stroke-width="1.8"/>
<line x1="217.8" y1="645.9" x2="217.8" y2="636.3" stroke="#bb9c74" stroke-width="1.4"/>
<line x1="213.8" y1="636.3" x2="221.8" y2="636.3" stroke="#bb9c74" stroke-width="1.7"/>
<rect x="211" y="645.8" width="13.6" height="54.7" fill="#cbb290"/>
<path d="M211 700.5V645.8H224.6V700.5" fill="none" stroke="#b08d62" stroke-width="1.8"/>
<line x1="242" y1="640.9" x2="242" y2="631.7" stroke="#6161b3" stroke-width="1.4"/>
<line x1="238" y1="631.7" x2="246" y2="631.7" stroke="#6161b3" stroke-width="1.7"/>
<rect x="235.2" y="640.8" width="13.6" height="59.7" fill="#8080c0"/>
<path d="M235.2 700.5V640.8H248.8V700.5" fill="none" stroke="#4c4caa" stroke-width="1.8"/>
<line x1="266.2" y1="620.7" x2="266.2" y2="607.1" stroke="#9c6197" stroke-width="1.4"/>
<line x1="262.2" y1="607.1" x2="270.2" y2="607.1" stroke="#9c6197" stroke-width="1.7"/>
<rect x="259.4" y="620.6" width="13.6" height="79.9" fill="#b080a8"/>
<path d="M259.4 700.5V620.6H273V700.5" fill="none" stroke="#8f4c8c" stroke-width="1.8"/>
<path d="M60.3 574V700.5H278.3" fill="none" stroke="#000" stroke-width="1.45"/>
<line x1="56.7" y1="700.5" x2="60.3" y2="700.5" stroke="#000" stroke-width="1.45"/>
<text transform="translate(55.4 703.7) scale(1.06 1)" font-size="9" font-weight="bold" text-anchor="end" fill="#1a1a1a">0</text>
<line x1="56.7" y1="682.43" x2="60.3" y2="682.43" stroke="#000" stroke-width="1.45"/>
<text transform="translate(55.4 685.62) scale(1.06 1)" font-size="9" font-weight="bold" text-anchor="end" fill="#1a1a1a">1</text>
<line x1="56.7" y1="664.36" x2="60.3" y2="664.36" stroke="#000" stroke-width="1.45"/>
<text transform="translate(55.4 667.56) scale(1.06 1)" font-size="9" font-weight="bold" text-anchor="end" fill="#1a1a1a">2</text>
<line x1="56.7" y1="646.29" x2="60.3" y2="646.29" stroke="#000" stroke-width="1.45"/>
<text transform="translate(55.4 649.49) scale(1.06 1)" font-size="9" font-weight="bold" text-anchor="end" fill="#1a1a1a">3</text>
<line x1="56.7" y1="628.22" x2="60.3" y2="628.22" stroke="#000" stroke-width="1.45"/>
<text transform="translate(55.4 631.42) scale(1.06 1)" font-size="9" font-weight="bold" text-anchor="end" fill="#1a1a1a">4</text>
<line x1="56.7" y1="610.15" x2="60.3" y2="610.15" stroke="#000" stroke-width="1.45"/>
<text transform="translate(55.4 613.35) scale(1.06 1)" font-size="9" font-weight="bold" text-anchor="end" fill="#1a1a1a">5</text>
<line x1="56.7" y1="592.08" x2="60.3" y2="592.08" stroke="#000" stroke-width="1.45"/>
<text transform="translate(55.4 595.28) scale(1.06 1)" font-size="9" font-weight="bold" text-anchor="end" fill="#1a1a1a">6</text>
<line x1="56.7" y1="574.01" x2="60.3" y2="574.01" stroke="#000" stroke-width="1.45"/>
<text transform="translate(55.4 577.21) scale(1.06 1)" font-size="9" font-weight="bold" text-anchor="end" fill="#1a1a1a">7</text>
<line x1="72.6" y1="700.5" x2="72.6" y2="704.1" stroke="#000" stroke-width="1.45"/>
<text x="73.8" y="716.7" font-size="9.5" text-anchor="middle" fill="#1a1a1a">-</text>
<text x="73.8" y="727.5" font-size="9.5" text-anchor="middle" fill="#1a1a1a">-</text>
<line x1="96.8" y1="700.5" x2="96.8" y2="704.1" stroke="#000" stroke-width="1.45"/>
<text x="96.8" y="716.7" font-size="9.5" text-anchor="middle" fill="#1a1a1a">-</text>
<text x="96.8" y="727.5" font-size="9.5" text-anchor="middle" fill="#1a1a1a">20</text>
<line x1="121" y1="700.5" x2="121" y2="704.1" stroke="#000" stroke-width="1.45"/>
<text x="121" y="716.7" font-size="9.5" text-anchor="middle" fill="#1a1a1a">-</text>
<text x="121" y="727.5" font-size="9.5" text-anchor="middle" fill="#1a1a1a">40</text>
<line x1="145.2" y1="700.5" x2="145.2" y2="704.1" stroke="#000" stroke-width="1.45"/>
<text x="145.2" y="717.6" font-size="9.5" text-anchor="middle" fill="#1a1a1a">0.2</text>
<text x="145.2" y="727.5" font-size="9.5" text-anchor="middle" fill="#1a1a1a">-</text>
<line x1="169.4" y1="700.5" x2="169.4" y2="704.1" stroke="#000" stroke-width="1.45"/>
<text x="169.4" y="716.7" font-size="9.5" text-anchor="middle" fill="#1a1a1a">0.2</text>
<text x="169.4" y="727.5" font-size="9.5" text-anchor="middle" fill="#1a1a1a">20</text>
<line x1="193.6" y1="700.5" x2="193.6" y2="704.1" stroke="#000" stroke-width="1.45"/>
<text x="193.6" y="716.7" font-size="9.5" text-anchor="middle" fill="#1a1a1a">0.2</text>
<text x="193.6" y="727.5" font-size="9.5" text-anchor="middle" fill="#1a1a1a">40</text>
<line x1="217.8" y1="700.5" x2="217.8" y2="704.1" stroke="#000" stroke-width="1.45"/>
<text x="217.8" y="716.7" font-size="9.5" text-anchor="middle" fill="#1a1a1a">2</text>
<text x="217.8" y="727.5" font-size="9.5" text-anchor="middle" fill="#1a1a1a">-</text>
<line x1="242" y1="700.5" x2="242" y2="704.1" stroke="#000" stroke-width="1.45"/>
<text x="242" y="716.7" font-size="9.5" text-anchor="middle" fill="#1a1a1a">2</text>
<text x="242" y="727.5" font-size="9.5" text-anchor="middle" fill="#1a1a1a">20</text>
<line x1="266.2" y1="700.5" x2="266.2" y2="704.1" stroke="#000" stroke-width="1.45"/>
<text x="266.2" y="716.7" font-size="9.5" text-anchor="middle" fill="#1a1a1a">2</text>
<text x="266.2" y="727.5" font-size="9.5" text-anchor="middle" fill="#1a1a1a">40</text>
<text x="9.3" y="717.6" font-size="9.69" fill="#1a1a1a">MAL (mM)</text>
<text x="9.3" y="728.7" font-size="9.69" fill="#1a1a1a">HYP (µM)</text>
<line x1="68.3" y1="550.4" x2="68.3" y2="577.6" stroke="#000" stroke-width="1.45"/>
<line x1="68.3" y1="555.7" x2="212.1" y2="555.7" stroke="#000" stroke-width="1.45"/>
<line x1="212.1" y1="550.1" x2="212.1" y2="561.3" stroke="#000" stroke-width="1.45"/>
<text x="139.2" y="557.22" font-size="11.16" text-anchor="middle" letter-spacing="0.6" stroke="#000" stroke-width="0.25">***</text>
<line x1="68.3" y1="564.3" x2="145.7" y2="564.3" stroke="#000" stroke-width="1.45"/>
<line x1="145.7" y1="558.7" x2="145.7" y2="569.9" stroke="#000" stroke-width="1.45"/>
<text x="112.3" y="565.52" font-size="11.16" text-anchor="middle" letter-spacing="0.6" stroke="#000" stroke-width="0.25">**</text>
<line x1="68.3" y1="571.9" x2="119.1" y2="571.9" stroke="#000" stroke-width="1.45"/>
<line x1="119.1" y1="566.3" x2="119.1" y2="577.5" stroke="#000" stroke-width="1.45"/>
<text x="99.8" y="573.02" font-size="11.16" text-anchor="middle" letter-spacing="0.6" stroke="#000" stroke-width="0.25">***</text>
<line x1="143.2" y1="581.2" x2="143.2" y2="592.2" stroke="#000" stroke-width="1.45"/>
<line x1="143.2" y1="586.5" x2="192.2" y2="586.5" stroke="#000" stroke-width="1.45"/>
<line x1="192.2" y1="580.9" x2="192.2" y2="592.1" stroke="#000" stroke-width="1.45"/>
<text x="170.3" y="587.92" font-size="11.16" text-anchor="middle" letter-spacing="0.6" stroke="#000" stroke-width="0.25">***</text>
<line x1="215" y1="594.6" x2="215" y2="605.5" stroke="#000" stroke-width="1.45"/>
<line x1="215" y1="600.2" x2="264.9" y2="600.2" stroke="#000" stroke-width="1.45"/>
<line x1="264.9" y1="594.6" x2="264.9" y2="605.8" stroke="#000" stroke-width="1.45"/>
<text x="243.1" y="600.02" font-size="11.16" text-anchor="middle" letter-spacing="0.6" stroke="#000" stroke-width="0.25">***</text>
<text transform="translate(32.4 637.3) rotate(-90) scale(1 1.06)" text-anchor="middle" font-size="10.5" font-weight="bold" fill="#1a1a1a">Parkin</text>
<text transform="translate(44.8 637) rotate(-90) scale(1 1.06)" text-anchor="middle" font-size="10.5" font-weight="bold" fill="#1a1a1a">(pg/µg protein)</text>
<text x="366.5" y="520.3" font-size="21" fill="#000">F</text>
<line x1="452.1" y1="623.9" x2="452.1" y2="608.5" stroke="#6161ff" stroke-width="1.4"/>
<line x1="448.1" y1="608.5" x2="456.1" y2="608.5" stroke="#6161ff" stroke-width="1.7"/>
<rect x="444.9" y="623.8" width="14.4" height="78.3" fill="#8080ff"/>
<path d="M444.9 702.1V623.8H459.3V702.1" fill="none" stroke="#4c4cff" stroke-width="1.8"/>
<line x1="477.3" y1="620.1" x2="477.3" y2="609.1" stroke="#fa6060" stroke-width="1.4"/>
<line x1="473.3" y1="609.1" x2="481.3" y2="609.1" stroke="#fa6060" stroke-width="1.7"/>
<rect x="470.1" y="620" width="14.4" height="82.1" fill="#ff8080"/>
<path d="M470.1 702.1V620H484.5V702.1" fill="none" stroke="#f74a4a" stroke-width="1.8"/>
<line x1="502.5" y1="607.4" x2="502.5" y2="591.8" stroke="#61d461" stroke-width="1.4"/>
<line x1="498.5" y1="591.8" x2="506.5" y2="591.8" stroke="#61d461" stroke-width="1.7"/>
<rect x="495.3" y="607.3" width="14.4" height="94.8" fill="#80e080"/>
<path d="M495.3 702.1V607.3H509.7V702.1" fill="none" stroke="#4ccc4c" stroke-width="1.8"/>
<line x1="527.7" y1="645.4" x2="527.7" y2="633.2" stroke="#c860ee" stroke-width="1.4"/>
<line x1="523.7" y1="633.2" x2="531.7" y2="633.2" stroke="#c860ee" stroke-width="1.7"/>
<rect x="520.5" y="645.3" width="14.4" height="56.8" fill="#d57ff2"/>
<path d="M520.5 702.1V645.3H534.9V702.1" fill="none" stroke="#bf4ceb" stroke-width="1.8"/>
<line x1="552.9" y1="632.3" x2="552.9" y2="619.9" stroke="#ffac5e" stroke-width="1.4"/>
<line x1="548.9" y1="619.9" x2="556.9" y2="619.9" stroke="#ffac5e" stroke-width="1.7"/>
<rect x="545.7" y="632.2" width="14.4" height="69.9" fill="#ffbf80"/>
<path d="M545.7 702.1V632.2H560.1V702.1" fill="none" stroke="#ff9f47" stroke-width="1.8"/>
<line x1="578.1" y1="624.6" x2="578.1" y2="609.9" stroke="#616161" stroke-width="1.4"/>
<line x1="574.1" y1="609.9" x2="582.1" y2="609.9" stroke="#616161" stroke-width="1.7"/>
<rect x="570.9" y="624.5" width="14.4" height="77.6" fill="#808080"/>
<path d="M570.9 702.1V624.5H585.3V702.1" fill="none" stroke="#4c4c4c" stroke-width="1.8"/>
<line x1="603.3" y1="657.5" x2="603.3" y2="646.5" stroke="#bb9c74" stroke-width="1.4"/>
<line x1="599.3" y1="646.5" x2="607.3" y2="646.5" stroke="#bb9c74" stroke-width="1.7"/>
<rect x="596.1" y="657.4" width="14.4" height="44.7" fill="#cbb290"/>
<path d="M596.1 702.1V657.4H610.5V702.1" fill="none" stroke="#b08d62" stroke-width="1.8"/>
<line x1="628.5" y1="648.4" x2="628.5" y2="644.1" stroke="#6161b3" stroke-width="1.4"/>
<line x1="624.5" y1="644.1" x2="632.5" y2="644.1" stroke="#6161b3" stroke-width="1.7"/>
<rect x="621.3" y="648.3" width="14.4" height="53.8" fill="#8080c0"/>
<path d="M621.3 702.1V648.3H635.7V702.1" fill="none" stroke="#4c4caa" stroke-width="1.8"/>
<line x1="653.7" y1="632.6" x2="653.7" y2="619.9" stroke="#9c6197" stroke-width="1.4"/>
<line x1="649.7" y1="619.9" x2="657.7" y2="619.9" stroke="#9c6197" stroke-width="1.7"/>
<rect x="646.5" y="632.5" width="14.4" height="69.6" fill="#b080a8"/>
<path d="M646.5 702.1V632.5H660.9V702.1" fill="none" stroke="#8f4c8c" stroke-width="1.8"/>
<path d="M439.4 571.4V702.1H667" fill="none" stroke="#000" stroke-width="1.45"/>
<line x1="435.9" y1="702.1" x2="439.4" y2="702.1" stroke="#000" stroke-width="1.45"/>
<text transform="translate(434.4 705.37) scale(1.06 1)" font-size="9.2" font-weight="bold" text-anchor="end" fill="#1a1a1a">0</text>
<line x1="435.9" y1="684.68" x2="439.4" y2="684.68" stroke="#000" stroke-width="1.45"/>
<text transform="translate(434.4 687.95) scale(1.06 1)" font-size="9.2" font-weight="bold" text-anchor="end" fill="#1a1a1a">2</text>
<line x1="435.9" y1="667.26" x2="439.4" y2="667.26" stroke="#000" stroke-width="1.45"/>
<text transform="translate(434.4 670.53) scale(1.06 1)" font-size="9.2" font-weight="bold" text-anchor="end" fill="#1a1a1a">4</text>
<line x1="435.9" y1="649.84" x2="439.4" y2="649.84" stroke="#000" stroke-width="1.45"/>
<text transform="translate(434.4 653.11) scale(1.06 1)" font-size="9.2" font-weight="bold" text-anchor="end" fill="#1a1a1a">6</text>
<line x1="435.9" y1="632.42" x2="439.4" y2="632.42" stroke="#000" stroke-width="1.45"/>
<text transform="translate(434.4 635.69) scale(1.06 1)" font-size="9.2" font-weight="bold" text-anchor="end" fill="#1a1a1a">8</text>
<line x1="435.9" y1="615" x2="439.4" y2="615" stroke="#000" stroke-width="1.45"/>
<text transform="translate(434.4 618.27) scale(1.06 1)" font-size="9.2" font-weight="bold" text-anchor="end" fill="#1a1a1a">10</text>
<line x1="435.9" y1="597.58" x2="439.4" y2="597.58" stroke="#000" stroke-width="1.45"/>
<text transform="translate(434.4 600.85) scale(1.06 1)" font-size="9.2" font-weight="bold" text-anchor="end" fill="#1a1a1a">12</text>
<line x1="435.9" y1="580.16" x2="439.4" y2="580.16" stroke="#000" stroke-width="1.45"/>
<text transform="translate(434.4 583.43) scale(1.06 1)" font-size="9.2" font-weight="bold" text-anchor="end" fill="#1a1a1a">14</text>
<line x1="452.1" y1="702.1" x2="452.1" y2="705.7" stroke="#000" stroke-width="1.45"/>
<text x="452.1" y="716.7" font-size="9.85" text-anchor="middle" fill="#1a1a1a">-</text>
<text x="452.1" y="728.4" font-size="9.85" text-anchor="middle" fill="#1a1a1a">-</text>
<line x1="477.3" y1="702.1" x2="477.3" y2="705.7" stroke="#000" stroke-width="1.45"/>
<text x="477.3" y="716.7" font-size="9.85" text-anchor="middle" fill="#1a1a1a">-</text>
<text x="477.3" y="728.4" font-size="9.85" text-anchor="middle" fill="#1a1a1a">20</text>
<line x1="502.5" y1="702.1" x2="502.5" y2="705.7" stroke="#000" stroke-width="1.45"/>
<text x="502.5" y="716.7" font-size="9.85" text-anchor="middle" fill="#1a1a1a">-</text>
<text x="502.5" y="728.4" font-size="9.85" text-anchor="middle" fill="#1a1a1a">40</text>
<line x1="527.7" y1="702.1" x2="527.7" y2="705.7" stroke="#000" stroke-width="1.45"/>
<text x="527.7" y="717.6" font-size="9.85" text-anchor="middle" fill="#1a1a1a">0.2</text>
<text x="527.7" y="728.4" font-size="9.85" text-anchor="middle" fill="#1a1a1a">-</text>
<line x1="552.9" y1="702.1" x2="552.9" y2="705.7" stroke="#000" stroke-width="1.45"/>
<text x="552.9" y="716.7" font-size="9.85" text-anchor="middle" fill="#1a1a1a">0.2</text>
<text x="552.9" y="728.4" font-size="9.85" text-anchor="middle" fill="#1a1a1a">20</text>
<line x1="578.1" y1="702.1" x2="578.1" y2="705.7" stroke="#000" stroke-width="1.45"/>
<text x="578.1" y="716.7" font-size="9.85" text-anchor="middle" fill="#1a1a1a">0.2</text>
<text x="578.1" y="728.4" font-size="9.85" text-anchor="middle" fill="#1a1a1a">40</text>
<line x1="603.3" y1="702.1" x2="603.3" y2="705.7" stroke="#000" stroke-width="1.45"/>
<text x="603.3" y="716.7" font-size="9.85" text-anchor="middle" fill="#1a1a1a">2</text>
<text x="603.3" y="728.4" font-size="9.85" text-anchor="middle" fill="#1a1a1a">-</text>
<line x1="628.5" y1="702.1" x2="628.5" y2="705.7" stroke="#000" stroke-width="1.45"/>
<text x="628.5" y="716.7" font-size="9.85" text-anchor="middle" fill="#1a1a1a">2</text>
<text x="628.5" y="728.4" font-size="9.85" text-anchor="middle" fill="#1a1a1a">20</text>
<line x1="653.7" y1="702.1" x2="653.7" y2="705.7" stroke="#000" stroke-width="1.45"/>
<text x="653.7" y="716.7" font-size="9.85" text-anchor="middle" fill="#1a1a1a">2</text>
<text x="653.7" y="728.4" font-size="9.85" text-anchor="middle" fill="#1a1a1a">40</text>
<text x="386.2" y="717.6" font-size="10.05" fill="#1a1a1a">MAL (mM)</text>
<text x="386.2" y="729.6" font-size="10.05" fill="#1a1a1a">HYP (µM)</text>
<line x1="451.1" y1="553.7" x2="451.1" y2="581.5" stroke="#000" stroke-width="1.45"/>
<line x1="451.1" y1="559.1" x2="599.3" y2="559.1" stroke="#000" stroke-width="1.45"/>
<line x1="599.3" y1="553.4" x2="599.3" y2="564.8" stroke="#000" stroke-width="1.45"/>
<text x="520.8" y="559.72" font-size="11.16" text-anchor="middle" letter-spacing="0.6" stroke="#000" stroke-width="0.25">***</text>
<line x1="451.1" y1="568.1" x2="531" y2="568.1" stroke="#000" stroke-width="1.45"/>
<line x1="531" y1="562.4" x2="531" y2="573.8" stroke="#000" stroke-width="1.45"/>
<text x="480.4" y="568.72" font-size="11.16" text-anchor="middle" letter-spacing="0.6" stroke="#000" stroke-width="0.25">***</text>
<line x1="451.1" y1="575.7" x2="503.4" y2="575.7" stroke="#000" stroke-width="1.45"/>
<line x1="503.4" y1="570" x2="503.4" y2="581.4" stroke="#000" stroke-width="1.45"/>
<text x="477.2" y="578.22" font-size="11.16" text-anchor="middle" letter-spacing="0.6" stroke="#000" stroke-width="0.25">***</text>
<line x1="526.4" y1="587.1" x2="526.4" y2="606.8" stroke="#000" stroke-width="1.45"/>
<line x1="526.4" y1="592.6" x2="576.6" y2="592.6" stroke="#000" stroke-width="1.45"/>
<line x1="576.6" y1="586.9" x2="576.6" y2="598.3" stroke="#000" stroke-width="1.45"/>
<text x="552.9" y="591.62" font-size="11.16" text-anchor="middle" letter-spacing="0.6" stroke="#000" stroke-width="0.25">***</text>
<line x1="526.4" y1="601.1" x2="553.6" y2="601.1" stroke="#000" stroke-width="1.45"/>
<line x1="553.6" y1="595.4" x2="553.6" y2="606.8" stroke="#000" stroke-width="1.45"/>
<text x="543.5" y="601.92" font-size="11.16" text-anchor="middle" letter-spacing="0.6" stroke="#000" stroke-width="0.25">**</text>
<line x1="602.8" y1="598.7" x2="602.8" y2="610.4" stroke="#000" stroke-width="1.45"/>
<line x1="602.8" y1="604" x2="654.5" y2="604" stroke="#000" stroke-width="1.45"/>
<line x1="654.5" y1="598.3" x2="654.5" y2="609.7" stroke="#000" stroke-width="1.45"/>
<text x="628" y="604.42" font-size="11.16" text-anchor="middle" letter-spacing="0.6" stroke="#000" stroke-width="0.25">***</text>
<text transform="translate(405 636.7) rotate(-90) scale(1 1.06)" text-anchor="middle" font-size="10.5" font-weight="bold" fill="#1a1a1a">PINK1</text>
<text transform="translate(417.4 636.7) rotate(-90) scale(1 1.06)" text-anchor="middle" font-size="10.5" font-weight="bold" fill="#1a1a1a">(pg/µg protein)</text>
<text x="11.7" y="771.4" font-size="21" fill="#000">G</text>
<line x1="65.7" y1="850.3" x2="65.7" y2="840.4" stroke="#6161ff" stroke-width="1.4"/>
<line x1="61.7" y1="840.4" x2="69.7" y2="840.4" stroke="#6161ff" stroke-width="1.7"/>
<rect x="58.9" y="850.2" width="13.6" height="87.9" fill="#8080ff"/>
<path d="M58.9 938.1V850.2H72.5V938.1" fill="none" stroke="#4c4cff" stroke-width="1.8"/>
<line x1="90.1" y1="838.7" x2="90.1" y2="835.1" stroke="#fa6060" stroke-width="1.4"/>
<line x1="86.1" y1="835.1" x2="94.1" y2="835.1" stroke="#fa6060" stroke-width="1.7"/>
<rect x="83.3" y="838.6" width="13.6" height="99.5" fill="#ff8080"/>
<path d="M83.3 938.1V838.6H96.9V938.1" fill="none" stroke="#f74a4a" stroke-width="1.8"/>
<line x1="114.5" y1="820.7" x2="114.5" y2="813.6" stroke="#61d461" stroke-width="1.4"/>
<line x1="110.5" y1="813.6" x2="118.5" y2="813.6" stroke="#61d461" stroke-width="1.7"/>
<rect x="107.7" y="820.6" width="13.6" height="117.5" fill="#80e080"/>
<path d="M107.7 938.1V820.6H121.3V938.1" fill="none" stroke="#4ccc4c" stroke-width="1.8"/>
<line x1="138.9" y1="879.1" x2="138.9" y2="870.4" stroke="#c860ee" stroke-width="1.4"/>
<line x1="134.9" y1="870.4" x2="142.9" y2="870.4" stroke="#c860ee" stroke-width="1.7"/>
<rect x="132.1" y="879" width="13.6" height="59.1" fill="#d57ff2"/>
<path d="M132.1 938.1V879H145.7V938.1" fill="none" stroke="#bf4ceb" stroke-width="1.8"/>
<line x1="163.3" y1="858.4" x2="163.3" y2="852.8" stroke="#ffac5e" stroke-width="1.4"/>
<line x1="159.3" y1="852.8" x2="167.3" y2="852.8" stroke="#ffac5e" stroke-width="1.7"/>
<rect x="156.5" y="858.3" width="13.6" height="79.8" fill="#ffbf80"/>
<path d="M156.5 938.1V858.3H170.1V938.1" fill="none" stroke="#ff9f47" stroke-width="1.8"/>
<line x1="187.7" y1="850.5" x2="187.7" y2="844.8" stroke="#616161" stroke-width="1.4"/>
<line x1="183.7" y1="844.8" x2="191.7" y2="844.8" stroke="#616161" stroke-width="1.7"/>
<rect x="180.9" y="850.4" width="13.6" height="87.7" fill="#808080"/>
<path d="M180.9 938.1V850.4H194.5V938.1" fill="none" stroke="#4c4c4c" stroke-width="1.8"/>
<line x1="212.1" y1="901.3" x2="212.1" y2="894.9" stroke="#bb9c74" stroke-width="1.4"/>
<line x1="208.1" y1="894.9" x2="216.1" y2="894.9" stroke="#bb9c74" stroke-width="1.7"/>
<rect x="205.3" y="901.2" width="13.6" height="36.9" fill="#cbb290"/>
<path d="M205.3 938.1V901.2H218.9V938.1" fill="none" stroke="#b08d62" stroke-width="1.8"/>
<line x1="236.5" y1="885.4" x2="236.5" y2="878.5" stroke="#6161b3" stroke-width="1.4"/>
<line x1="232.5" y1="878.5" x2="240.5" y2="878.5" stroke="#6161b3" stroke-width="1.7"/>
<rect x="229.7" y="885.3" width="13.6" height="52.8" fill="#8080c0"/>
<path d="M229.7 938.1V885.3H243.3V938.1" fill="none" stroke="#4c4caa" stroke-width="1.8"/>
<line x1="260.9" y1="861.6" x2="260.9" y2="853.5" stroke="#9c6197" stroke-width="1.4"/>
<line x1="256.9" y1="853.5" x2="264.9" y2="853.5" stroke="#9c6197" stroke-width="1.7"/>
<rect x="254.1" y="861.5" width="13.6" height="76.6" fill="#b080a8"/>
<path d="M254.1 938.1V861.5H267.7V938.1" fill="none" stroke="#8f4c8c" stroke-width="1.8"/>
<path d="M53.7 806.1V938.1H273.6" fill="none" stroke="#000" stroke-width="1.45"/>
<line x1="49.4" y1="938.1" x2="53.7" y2="938.1" stroke="#000" stroke-width="1.45"/>
<text transform="translate(48.6 941.58) scale(1.06 1)" font-size="9.8" font-weight="bold" text-anchor="end" fill="#1a1a1a">0.0</text>
<line x1="49.4" y1="920.65" x2="53.7" y2="920.65" stroke="#000" stroke-width="1.45"/>
<text transform="translate(48.6 924.13) scale(1.06 1)" font-size="9.8" font-weight="bold" text-anchor="end" fill="#1a1a1a">0.2</text>
<line x1="49.4" y1="903.2" x2="53.7" y2="903.2" stroke="#000" stroke-width="1.45"/>
<text transform="translate(48.6 906.68) scale(1.06 1)" font-size="9.8" font-weight="bold" text-anchor="end" fill="#1a1a1a">0.4</text>
<line x1="49.4" y1="885.75" x2="53.7" y2="885.75" stroke="#000" stroke-width="1.45"/>
<text transform="translate(48.6 889.23) scale(1.06 1)" font-size="9.8" font-weight="bold" text-anchor="end" fill="#1a1a1a">0.6</text>
<line x1="49.4" y1="868.3" x2="53.7" y2="868.3" stroke="#000" stroke-width="1.45"/>
<text transform="translate(48.6 871.78) scale(1.06 1)" font-size="9.8" font-weight="bold" text-anchor="end" fill="#1a1a1a">0.8</text>
<line x1="49.4" y1="850.85" x2="53.7" y2="850.85" stroke="#000" stroke-width="1.45"/>
<text transform="translate(48.6 854.33) scale(1.06 1)" font-size="9.8" font-weight="bold" text-anchor="end" fill="#1a1a1a">1.0</text>
<line x1="49.4" y1="833.4" x2="53.7" y2="833.4" stroke="#000" stroke-width="1.45"/>
<text transform="translate(48.6 836.88) scale(1.06 1)" font-size="9.8" font-weight="bold" text-anchor="end" fill="#1a1a1a">1.2</text>
<line x1="49.4" y1="815.95" x2="53.7" y2="815.95" stroke="#000" stroke-width="1.45"/>
<text transform="translate(48.6 819.43) scale(1.06 1)" font-size="9.8" font-weight="bold" text-anchor="end" fill="#1a1a1a">1.4</text>
<line x1="65.7" y1="938.1" x2="65.7" y2="941.7" stroke="#000" stroke-width="1.45"/>
<text x="67.3" y="953.3" font-size="9.75" text-anchor="middle" fill="#1a1a1a">-</text>
<text x="67.3" y="964.4" font-size="9.75" text-anchor="middle" fill="#1a1a1a">-</text>
<line x1="90.1" y1="938.1" x2="90.1" y2="941.7" stroke="#000" stroke-width="1.45"/>
<text x="91.1" y="953.3" font-size="9.75" text-anchor="middle" fill="#1a1a1a">-</text>
<text x="91.1" y="964.4" font-size="9.75" text-anchor="middle" fill="#1a1a1a">20</text>
<line x1="114.5" y1="938.1" x2="114.5" y2="941.7" stroke="#000" stroke-width="1.45"/>
<text x="116" y="953.3" font-size="9.75" text-anchor="middle" fill="#1a1a1a">-</text>
<text x="116" y="964.4" font-size="9.75" text-anchor="middle" fill="#1a1a1a">40</text>
<line x1="138.9" y1="938.1" x2="138.9" y2="941.7" stroke="#000" stroke-width="1.45"/>
<text x="138.1" y="954.2" font-size="9.75" text-anchor="middle" fill="#1a1a1a">0.2</text>
<text x="138.1" y="964.4" font-size="9.75" text-anchor="middle" fill="#1a1a1a">-</text>
<line x1="163.3" y1="938.1" x2="163.3" y2="941.7" stroke="#000" stroke-width="1.45"/>
<text x="163.9" y="953.3" font-size="9.75" text-anchor="middle" fill="#1a1a1a">0.2</text>
<text x="163.9" y="964.4" font-size="9.75" text-anchor="middle" fill="#1a1a1a">20</text>
<line x1="187.7" y1="938.1" x2="187.7" y2="941.7" stroke="#000" stroke-width="1.45"/>
<text x="188.3" y="953.3" font-size="9.75" text-anchor="middle" fill="#1a1a1a">0.2</text>
<text x="188.3" y="964.4" font-size="9.75" text-anchor="middle" fill="#1a1a1a">40</text>
<line x1="212.1" y1="938.1" x2="212.1" y2="941.7" stroke="#000" stroke-width="1.45"/>
<text x="212.9" y="953.3" font-size="9.75" text-anchor="middle" fill="#1a1a1a">2</text>
<text x="212.9" y="964.4" font-size="9.75" text-anchor="middle" fill="#1a1a1a">-</text>
<line x1="236.5" y1="938.1" x2="236.5" y2="941.7" stroke="#000" stroke-width="1.45"/>
<text x="238.3" y="953.3" font-size="9.75" text-anchor="middle" fill="#1a1a1a">2</text>
<text x="238.3" y="964.4" font-size="9.75" text-anchor="middle" fill="#1a1a1a">20</text>
<line x1="260.9" y1="938.1" x2="260.9" y2="941.7" stroke="#000" stroke-width="1.45"/>
<text x="262.7" y="953.3" font-size="9.75" text-anchor="middle" fill="#1a1a1a">2</text>
<text x="262.7" y="964.4" font-size="9.75" text-anchor="middle" fill="#1a1a1a">40</text>
<text x="0.4" y="954.2" font-size="9.95" fill="#1a1a1a">MAL (mM)</text>
<text x="0.4" y="965.6" font-size="9.95" fill="#1a1a1a">HYP (µM)</text>
<line x1="64.9" y1="784.2" x2="64.9" y2="811.8" stroke="#000" stroke-width="1.45"/>
<line x1="64.9" y1="790" x2="214.1" y2="790" stroke="#000" stroke-width="1.45"/>
<line x1="214.1" y1="784.4" x2="214.1" y2="795.6" stroke="#000" stroke-width="1.45"/>
<text x="135.1" y="790.02" font-size="11.16" text-anchor="middle" letter-spacing="0.6" stroke="#000" stroke-width="0.25">***</text>
<line x1="64.9" y1="798.5" x2="142" y2="798.5" stroke="#000" stroke-width="1.45"/>
<line x1="142" y1="792.9" x2="142" y2="804.1" stroke="#000" stroke-width="1.45"/>
<text x="94.2" y="799.22" font-size="11.16" text-anchor="middle" letter-spacing="0.6" stroke="#000" stroke-width="0.25">***</text>
<line x1="64.9" y1="806.1" x2="114.4" y2="806.1" stroke="#000" stroke-width="1.45"/>
<line x1="114.4" y1="800.5" x2="114.4" y2="811.7" stroke="#000" stroke-width="1.45"/>
<text x="91" y="808.92" font-size="11.16" text-anchor="middle" letter-spacing="0.6" stroke="#000" stroke-width="0.25">***</text>
<line x1="134.8" y1="830.3" x2="134.8" y2="850.1" stroke="#000" stroke-width="1.45"/>
<line x1="134.8" y1="835.9" x2="185.1" y2="835.9" stroke="#000" stroke-width="1.45"/>
<line x1="185.1" y1="830.3" x2="185.1" y2="841.5" stroke="#000" stroke-width="1.45"/>
<text x="161.3" y="834.52" font-size="11.16" text-anchor="middle" letter-spacing="0.6" stroke="#000" stroke-width="0.25">***</text>
<line x1="134.8" y1="844.4" x2="162.3" y2="844.4" stroke="#000" stroke-width="1.45"/>
<line x1="162.3" y1="838.8" x2="162.3" y2="850" stroke="#000" stroke-width="1.45"/>
<text x="152.1" y="845.12" font-size="11.16" text-anchor="middle" letter-spacing="0.6" stroke="#000" stroke-width="0.25">**</text>
<line x1="211.3" y1="838.7" x2="211.3" y2="849.7" stroke="#000" stroke-width="1.45"/>
<line x1="211.3" y1="844" x2="261.4" y2="844" stroke="#000" stroke-width="1.45"/>
<line x1="261.4" y1="838.4" x2="261.4" y2="849.6" stroke="#000" stroke-width="1.45"/>
<text x="234.9" y="844.32" font-size="11.16" text-anchor="middle" letter-spacing="0.6" stroke="#000" stroke-width="0.25">***</text>
<text transform="translate(28 872) rotate(-90) scale(1 1.06)" text-anchor="middle" font-size="10.9" font-weight="bold" fill="#1a1a1a">PDH (folds of change)</text>
<text x="370.9" y="773" font-size="21" fill="#000">H</text>
<line x1="442.75" y1="842.7" x2="442.75" y2="836.8" stroke="#6161ff" stroke-width="1.4"/>
<line x1="438.75" y1="836.8" x2="446.75" y2="836.8" stroke="#6161ff" stroke-width="1.7"/>
<rect x="436" y="842.6" width="13.5" height="94.6" fill="#8080ff"/>
<path d="M436 937.2V842.6H449.5V937.2" fill="none" stroke="#4c4cff" stroke-width="1.8"/>
<line x1="466.73" y1="831.8" x2="466.73" y2="828.3" stroke="#fa6060" stroke-width="1.4"/>
<line x1="462.73" y1="828.3" x2="470.73" y2="828.3" stroke="#fa6060" stroke-width="1.7"/>
<rect x="459.98" y="831.7" width="13.5" height="105.5" fill="#ff8080"/>
<path d="M459.98 937.2V831.7H473.48V937.2" fill="none" stroke="#f74a4a" stroke-width="1.8"/>
<line x1="490.71" y1="823.2" x2="490.71" y2="812.7" stroke="#61d461" stroke-width="1.4"/>
<line x1="486.71" y1="812.7" x2="494.71" y2="812.7" stroke="#61d461" stroke-width="1.7"/>
<rect x="483.96" y="823.1" width="13.5" height="114.1" fill="#80e080"/>
<path d="M483.96 937.2V823.1H497.46V937.2" fill="none" stroke="#4ccc4c" stroke-width="1.8"/>
<line x1="514.69" y1="870.7" x2="514.69" y2="861.7" stroke="#c860ee" stroke-width="1.4"/>
<line x1="510.69" y1="861.7" x2="518.69" y2="861.7" stroke="#c860ee" stroke-width="1.7"/>
<rect x="507.94" y="870.6" width="13.5" height="66.6" fill="#d57ff2"/>
<path d="M507.94 937.2V870.6H521.44V937.2" fill="none" stroke="#bf4ceb" stroke-width="1.8"/>
<line x1="538.67" y1="857.9" x2="538.67" y2="851.8" stroke="#ffac5e" stroke-width="1.4"/>
<line x1="534.67" y1="851.8" x2="542.67" y2="851.8" stroke="#ffac5e" stroke-width="1.7"/>
<rect x="531.92" y="857.8" width="13.5" height="79.4" fill="#ffbf80"/>
<path d="M531.92 937.2V857.8H545.42V937.2" fill="none" stroke="#ff9f47" stroke-width="1.8"/>
<line x1="562.65" y1="848.3" x2="562.65" y2="844.8" stroke="#616161" stroke-width="1.4"/>
<line x1="558.65" y1="844.8" x2="566.65" y2="844.8" stroke="#616161" stroke-width="1.7"/>
<rect x="555.9" y="848.2" width="13.5" height="89" fill="#808080"/>
<path d="M555.9 937.2V848.2H569.4V937.2" fill="none" stroke="#4c4c4c" stroke-width="1.8"/>
<line x1="586.63" y1="891.2" x2="586.63" y2="883.2" stroke="#bb9c74" stroke-width="1.4"/>
<line x1="582.63" y1="883.2" x2="590.63" y2="883.2" stroke="#bb9c74" stroke-width="1.7"/>
<rect x="579.88" y="891.1" width="13.5" height="46.1" fill="#cbb290"/>
<path d="M579.88 937.2V891.1H593.38V937.2" fill="none" stroke="#b08d62" stroke-width="1.8"/>
<line x1="610.61" y1="880.2" x2="610.61" y2="872.2" stroke="#6161b3" stroke-width="1.4"/>
<line x1="606.61" y1="872.2" x2="614.61" y2="872.2" stroke="#6161b3" stroke-width="1.7"/>
<rect x="603.86" y="880.1" width="13.5" height="57.1" fill="#8080c0"/>
<path d="M603.86 937.2V880.1H617.36V937.2" fill="none" stroke="#4c4caa" stroke-width="1.8"/>
<line x1="634.59" y1="861.6" x2="634.59" y2="857" stroke="#9c6197" stroke-width="1.4"/>
<line x1="630.59" y1="857" x2="638.59" y2="857" stroke="#9c6197" stroke-width="1.7"/>
<rect x="627.84" y="861.5" width="13.5" height="75.7" fill="#b080a8"/>
<path d="M627.84 937.2V861.5H641.34V937.2" fill="none" stroke="#8f4c8c" stroke-width="1.8"/>
<path d="M430.6 812.2V937.2H648" fill="none" stroke="#000" stroke-width="1.45"/>
<line x1="426.8" y1="937.2" x2="430.6" y2="937.2" stroke="#000" stroke-width="1.45"/>
<text transform="translate(426 940.72) scale(1.06 1)" font-size="9.35" font-weight="bold" text-anchor="end" fill="#1a1a1a">0.0</text>
<line x1="426.8" y1="918.02" x2="430.6" y2="918.02" stroke="#000" stroke-width="1.45"/>
<text transform="translate(426 921.54) scale(1.06 1)" font-size="9.35" font-weight="bold" text-anchor="end" fill="#1a1a1a">0.2</text>
<line x1="426.8" y1="898.84" x2="430.6" y2="898.84" stroke="#000" stroke-width="1.45"/>
<text transform="translate(426 902.36) scale(1.06 1)" font-size="9.35" font-weight="bold" text-anchor="end" fill="#1a1a1a">0.4</text>
<line x1="426.8" y1="879.66" x2="430.6" y2="879.66" stroke="#000" stroke-width="1.45"/>
<text transform="translate(426 883.18) scale(1.06 1)" font-size="9.35" font-weight="bold" text-anchor="end" fill="#1a1a1a">0.6</text>
<line x1="426.8" y1="860.48" x2="430.6" y2="860.48" stroke="#000" stroke-width="1.45"/>
<text transform="translate(426 864) scale(1.06 1)" font-size="9.35" font-weight="bold" text-anchor="end" fill="#1a1a1a">0.8</text>
<line x1="426.8" y1="841.3" x2="430.6" y2="841.3" stroke="#000" stroke-width="1.45"/>
<text transform="translate(426 844.82) scale(1.06 1)" font-size="9.35" font-weight="bold" text-anchor="end" fill="#1a1a1a">1.0</text>
<line x1="426.8" y1="822.12" x2="430.6" y2="822.12" stroke="#000" stroke-width="1.45"/>
<text transform="translate(426 825.64) scale(1.06 1)" font-size="9.35" font-weight="bold" text-anchor="end" fill="#1a1a1a">1.2</text>
<line x1="442.75" y1="937.2" x2="442.75" y2="940.8" stroke="#000" stroke-width="1.45"/>
<text x="442.75" y="951.1" font-size="9.35" text-anchor="middle" fill="#1a1a1a">-</text>
<text x="442.75" y="962.7" font-size="9.35" text-anchor="middle" fill="#1a1a1a">-</text>
<line x1="466.73" y1="937.2" x2="466.73" y2="940.8" stroke="#000" stroke-width="1.45"/>
<text x="466.73" y="951.1" font-size="9.35" text-anchor="middle" fill="#1a1a1a">-</text>
<text x="466.73" y="962.7" font-size="9.35" text-anchor="middle" fill="#1a1a1a">20</text>
<line x1="490.71" y1="937.2" x2="490.71" y2="940.8" stroke="#000" stroke-width="1.45"/>
<text x="490.71" y="951.1" font-size="9.35" text-anchor="middle" fill="#1a1a1a">-</text>
<text x="490.71" y="962.7" font-size="9.35" text-anchor="middle" fill="#1a1a1a">40</text>
<line x1="514.69" y1="937.2" x2="514.69" y2="940.8" stroke="#000" stroke-width="1.45"/>
<text x="514.69" y="952" font-size="9.35" text-anchor="middle" fill="#1a1a1a">0.2</text>
<text x="514.69" y="962.7" font-size="9.35" text-anchor="middle" fill="#1a1a1a">-</text>
<line x1="538.67" y1="937.2" x2="538.67" y2="940.8" stroke="#000" stroke-width="1.45"/>
<text x="538.67" y="951.1" font-size="9.35" text-anchor="middle" fill="#1a1a1a">0.2</text>
<text x="538.67" y="962.7" font-size="9.35" text-anchor="middle" fill="#1a1a1a">20</text>
<line x1="562.65" y1="937.2" x2="562.65" y2="940.8" stroke="#000" stroke-width="1.45"/>
<text x="562.65" y="951.1" font-size="9.35" text-anchor="middle" fill="#1a1a1a">0.2</text>
<text x="562.65" y="962.7" font-size="9.35" text-anchor="middle" fill="#1a1a1a">40</text>
<line x1="586.63" y1="937.2" x2="586.63" y2="940.8" stroke="#000" stroke-width="1.45"/>
<text x="586.63" y="951.1" font-size="9.35" text-anchor="middle" fill="#1a1a1a">2</text>
<text x="586.63" y="962.7" font-size="9.35" text-anchor="middle" fill="#1a1a1a">-</text>
<line x1="610.61" y1="937.2" x2="610.61" y2="940.8" stroke="#000" stroke-width="1.45"/>
<text x="610.61" y="951.1" font-size="9.35" text-anchor="middle" fill="#1a1a1a">2</text>
<text x="610.61" y="962.7" font-size="9.35" text-anchor="middle" fill="#1a1a1a">20</text>
<line x1="634.59" y1="937.2" x2="634.59" y2="940.8" stroke="#000" stroke-width="1.45"/>
<text x="634.59" y="951.1" font-size="9.35" text-anchor="middle" fill="#1a1a1a">2</text>
<text x="634.59" y="962.7" font-size="9.35" text-anchor="middle" fill="#1a1a1a">40</text>
<text x="379" y="952" font-size="9.54" fill="#1a1a1a">MAL (mM)</text>
<text x="379" y="963.9" font-size="9.54" fill="#1a1a1a">HYP (µM)</text>
<line x1="441.1" y1="784.3" x2="441.1" y2="810.5" stroke="#000" stroke-width="1.45"/>
<line x1="441.1" y1="789.4" x2="582.7" y2="789.4" stroke="#000" stroke-width="1.45"/>
<line x1="582.7" y1="783.8" x2="582.7" y2="795" stroke="#000" stroke-width="1.45"/>
<text x="510.1" y="789.82" font-size="11.16" text-anchor="middle" letter-spacing="0.6" stroke="#000" stroke-width="0.25">***</text>
<line x1="441.1" y1="798" x2="517.3" y2="798" stroke="#000" stroke-width="1.45"/>
<line x1="517.3" y1="792.4" x2="517.3" y2="803.6" stroke="#000" stroke-width="1.45"/>
<text x="478.3" y="799.82" font-size="11.16" text-anchor="middle" letter-spacing="0.6" stroke="#000" stroke-width="0.25">***</text>
<line x1="441.1" y1="805.3" x2="490.7" y2="805.3" stroke="#000" stroke-width="1.45"/>
<line x1="490.7" y1="799.7" x2="490.7" y2="810.9" stroke="#000" stroke-width="1.45"/>
<text x="466.3" y="808.02" font-size="11.16" text-anchor="middle" letter-spacing="0.6" stroke="#000" stroke-width="0.25">**</text>
<line x1="514.4" y1="831.3" x2="514.4" y2="842.5" stroke="#000" stroke-width="1.45"/>
<line x1="514.4" y1="836.8" x2="562.8" y2="836.8" stroke="#000" stroke-width="1.45"/>
<line x1="562.8" y1="831.2" x2="562.8" y2="842.4" stroke="#000" stroke-width="1.45"/>
<text x="538.5" y="836.92" font-size="11.16" text-anchor="middle" letter-spacing="0.6" stroke="#000" stroke-width="0.25">**</text>
<line x1="585.2" y1="843" x2="585.2" y2="854" stroke="#000" stroke-width="1.45"/>
<line x1="585.2" y1="848.4" x2="634.3" y2="848.4" stroke="#000" stroke-width="1.45"/>
<line x1="634.3" y1="842.8" x2="634.3" y2="854" stroke="#000" stroke-width="1.45"/>
<text x="609.7" y="850.02" font-size="11.16" text-anchor="middle" letter-spacing="0.6" stroke="#000" stroke-width="0.25">***</text>
<text transform="translate(407 874.3) rotate(-90) scale(1 1.06)" text-anchor="middle" font-size="10.4" fill="#1a1a1a">α-KG (Folds of changes)</text>
<text transform="translate(44.4 367.4) rotate(-90) scale(1 1.06)" text-anchor="middle" font-size="9.9" fill="#1a1a1a">OCR (nmol O<tspan font-size="7.3" dy="2.2">2</tspan><tspan dy="-2.2"> 10</tspan><tspan font-size="7.3" dy="-4.8">7</tspan><tspan dy="4.8"> cell</tspan><tspan font-size="7.3" dy="-4.8">-1</tspan><tspan dy="4.8"> min</tspan><tspan font-size="7.3" dy="-4.8">-1</tspan><tspan dy="4.8">)</tspan></text>
</g>
</svg>
</body></html>
